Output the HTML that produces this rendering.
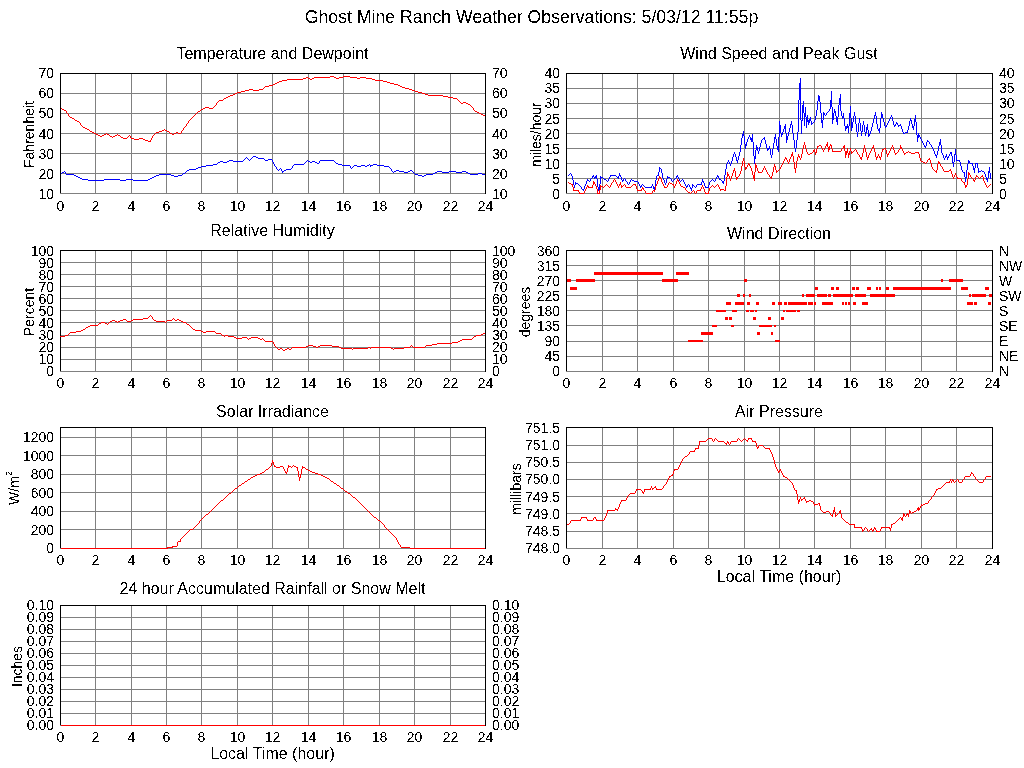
<!DOCTYPE html>
<html><head><meta charset="utf-8"><style>html,body{margin:0;padding:0;background:#fff;}svg{display:block;}text{font-family:"Liberation Sans", sans-serif;fill:#000;}</style></head>
<body><svg width="1024" height="768" viewBox="0 0 1024 768" shape-rendering="crispEdges">
<defs><filter id="th" x="0" y="0" width="1024" height="768" filterUnits="userSpaceOnUse" color-interpolation-filters="sRGB"><feComponentTransfer><feFuncA type="discrete" tableValues="0 1"/></feComponentTransfer></filter><filter id="th2" x="0" y="0" width="1024" height="768" filterUnits="userSpaceOnUse" color-interpolation-filters="sRGB"><feComponentTransfer><feFuncA type="discrete" tableValues="0 0 1"/></feComponentTransfer></filter><filter id="th3" color-interpolation-filters="sRGB"><feComponentTransfer><feFuncA type="discrete" tableValues="0 1"/></feComponentTransfer></filter></defs>
<rect width="1024" height="768" fill="#fff"/>
<g fill="#808080"><rect x="95" y="73" width="1" height="120"/><rect x="131" y="73" width="1" height="120"/><rect x="166" y="73" width="1" height="120"/><rect x="201" y="73" width="1" height="120"/><rect x="237" y="73" width="1" height="120"/><rect x="272" y="73" width="1" height="120"/><rect x="308" y="73" width="1" height="120"/><rect x="343" y="73" width="1" height="120"/><rect x="379" y="73" width="1" height="120"/><rect x="414" y="73" width="1" height="120"/><rect x="450" y="73" width="1" height="120"/><rect x="60" y="193" width="426" height="1"/><rect x="60" y="173" width="426" height="1"/><rect x="60" y="153" width="426" height="1"/><rect x="60" y="133" width="426" height="1"/><rect x="60" y="113" width="426" height="1"/><rect x="60" y="93" width="426" height="1"/></g>
<g fill="#000"><rect x="60" y="73" width="1" height="120"/><rect x="60" y="73" width="426" height="1"/><rect x="485" y="73" width="1" height="121"/></g>
<g fill="#808080"><rect x="602" y="73" width="1" height="120"/><rect x="637" y="73" width="1" height="120"/><rect x="673" y="73" width="1" height="120"/><rect x="708" y="73" width="1" height="120"/><rect x="744" y="73" width="1" height="120"/><rect x="779" y="73" width="1" height="120"/><rect x="814" y="73" width="1" height="120"/><rect x="850" y="73" width="1" height="120"/><rect x="885" y="73" width="1" height="120"/><rect x="921" y="73" width="1" height="120"/><rect x="956" y="73" width="1" height="120"/><rect x="566" y="193" width="427" height="1"/><rect x="566" y="178" width="427" height="1"/><rect x="566" y="163" width="427" height="1"/><rect x="566" y="148" width="427" height="1"/><rect x="566" y="133" width="427" height="1"/><rect x="566" y="118" width="427" height="1"/><rect x="566" y="103" width="427" height="1"/><rect x="566" y="88" width="427" height="1"/></g>
<g fill="#000"><rect x="566" y="73" width="1" height="120"/><rect x="566" y="73" width="427" height="1"/><rect x="992" y="73" width="1" height="121"/></g>
<g fill="#808080"><rect x="95" y="250" width="1" height="121"/><rect x="131" y="250" width="1" height="121"/><rect x="166" y="250" width="1" height="121"/><rect x="201" y="250" width="1" height="121"/><rect x="237" y="250" width="1" height="121"/><rect x="272" y="250" width="1" height="121"/><rect x="308" y="250" width="1" height="121"/><rect x="343" y="250" width="1" height="121"/><rect x="379" y="250" width="1" height="121"/><rect x="414" y="250" width="1" height="121"/><rect x="450" y="250" width="1" height="121"/><rect x="60" y="371" width="426" height="1"/><rect x="60" y="359" width="426" height="1"/><rect x="60" y="347" width="426" height="1"/><rect x="60" y="335" width="426" height="1"/><rect x="60" y="322" width="426" height="1"/><rect x="60" y="310" width="426" height="1"/><rect x="60" y="298" width="426" height="1"/><rect x="60" y="286" width="426" height="1"/><rect x="60" y="274" width="426" height="1"/><rect x="60" y="262" width="426" height="1"/></g>
<g fill="#000"><rect x="60" y="250" width="1" height="121"/><rect x="60" y="250" width="426" height="1"/><rect x="485" y="250" width="1" height="122"/></g>
<g fill="#808080"><rect x="602" y="250" width="1" height="121"/><rect x="637" y="250" width="1" height="121"/><rect x="673" y="250" width="1" height="121"/><rect x="708" y="250" width="1" height="121"/><rect x="744" y="250" width="1" height="121"/><rect x="779" y="250" width="1" height="121"/><rect x="814" y="250" width="1" height="121"/><rect x="850" y="250" width="1" height="121"/><rect x="885" y="250" width="1" height="121"/><rect x="921" y="250" width="1" height="121"/><rect x="956" y="250" width="1" height="121"/><rect x="566" y="371" width="427" height="1"/><rect x="566" y="356" width="427" height="1"/><rect x="566" y="341" width="427" height="1"/><rect x="566" y="325" width="427" height="1"/><rect x="566" y="310" width="427" height="1"/><rect x="566" y="295" width="427" height="1"/><rect x="566" y="280" width="427" height="1"/><rect x="566" y="265" width="427" height="1"/></g>
<g fill="#000"><rect x="566" y="250" width="1" height="121"/><rect x="566" y="250" width="427" height="1"/><rect x="992" y="250" width="1" height="122"/></g>
<g fill="#808080"><rect x="95" y="427" width="1" height="121"/><rect x="131" y="427" width="1" height="121"/><rect x="166" y="427" width="1" height="121"/><rect x="201" y="427" width="1" height="121"/><rect x="237" y="427" width="1" height="121"/><rect x="272" y="427" width="1" height="121"/><rect x="308" y="427" width="1" height="121"/><rect x="343" y="427" width="1" height="121"/><rect x="379" y="427" width="1" height="121"/><rect x="414" y="427" width="1" height="121"/><rect x="450" y="427" width="1" height="121"/><rect x="60" y="548" width="426" height="1"/><rect x="60" y="529" width="426" height="1"/><rect x="60" y="511" width="426" height="1"/><rect x="60" y="492" width="426" height="1"/><rect x="60" y="474" width="426" height="1"/><rect x="60" y="455" width="426" height="1"/><rect x="60" y="437" width="426" height="1"/></g>
<g fill="#000"><rect x="60" y="427" width="1" height="121"/><rect x="60" y="427" width="426" height="1"/><rect x="485" y="427" width="1" height="122"/></g>
<g fill="#808080"><rect x="602" y="427" width="1" height="121"/><rect x="637" y="427" width="1" height="121"/><rect x="673" y="427" width="1" height="121"/><rect x="708" y="427" width="1" height="121"/><rect x="744" y="427" width="1" height="121"/><rect x="779" y="427" width="1" height="121"/><rect x="814" y="427" width="1" height="121"/><rect x="850" y="427" width="1" height="121"/><rect x="885" y="427" width="1" height="121"/><rect x="921" y="427" width="1" height="121"/><rect x="956" y="427" width="1" height="121"/><rect x="566" y="548" width="427" height="1"/><rect x="566" y="531" width="427" height="1"/><rect x="566" y="513" width="427" height="1"/><rect x="566" y="496" width="427" height="1"/><rect x="566" y="479" width="427" height="1"/><rect x="566" y="462" width="427" height="1"/><rect x="566" y="445" width="427" height="1"/></g>
<g fill="#000"><rect x="566" y="427" width="1" height="121"/><rect x="566" y="427" width="427" height="1"/><rect x="992" y="427" width="1" height="122"/></g>
<g fill="#808080"><rect x="95" y="605" width="1" height="120"/><rect x="131" y="605" width="1" height="120"/><rect x="166" y="605" width="1" height="120"/><rect x="201" y="605" width="1" height="120"/><rect x="237" y="605" width="1" height="120"/><rect x="272" y="605" width="1" height="120"/><rect x="308" y="605" width="1" height="120"/><rect x="343" y="605" width="1" height="120"/><rect x="379" y="605" width="1" height="120"/><rect x="414" y="605" width="1" height="120"/><rect x="450" y="605" width="1" height="120"/><rect x="60" y="725" width="426" height="1"/><rect x="60" y="713" width="426" height="1"/><rect x="60" y="701" width="426" height="1"/><rect x="60" y="689" width="426" height="1"/><rect x="60" y="677" width="426" height="1"/><rect x="60" y="665" width="426" height="1"/><rect x="60" y="653" width="426" height="1"/><rect x="60" y="641" width="426" height="1"/><rect x="60" y="629" width="426" height="1"/><rect x="60" y="617" width="426" height="1"/></g>
<g fill="#000"><rect x="60" y="605" width="1" height="120"/><rect x="60" y="605" width="426" height="1"/><rect x="485" y="605" width="1" height="121"/></g>
<g filter="url(#th)"><text x="531.5" y="23" font-size="17.7" text-anchor="middle" >Ghost Mine Ranch Weather Observations: 5/03/12 11:55p</text>
<text x="272.5" y="59" font-size="16" text-anchor="middle" >Temperature and Dewpoint</text>
<text x="54" y="199" font-size="14" text-anchor="end" >10</text>
<text x="492" y="199" font-size="14" text-anchor="start" >10</text>
<text x="54" y="179" font-size="14" text-anchor="end" >20</text>
<text x="492" y="179" font-size="14" text-anchor="start" >20</text>
<text x="54" y="159" font-size="14" text-anchor="end" >30</text>
<text x="492" y="159" font-size="14" text-anchor="start" >30</text>
<text x="54" y="139" font-size="14" text-anchor="end" >40</text>
<text x="492" y="139" font-size="14" text-anchor="start" >40</text>
<text x="54" y="118" font-size="14" text-anchor="end" >50</text>
<text x="492" y="118" font-size="14" text-anchor="start" >50</text>
<text x="54" y="98" font-size="14" text-anchor="end" >60</text>
<text x="492" y="98" font-size="14" text-anchor="start" >60</text>
<text x="54" y="78" font-size="14" text-anchor="end" >70</text>
<text x="492" y="78" font-size="14" text-anchor="start" >70</text>
<text x="60.5" y="211" font-size="14" text-anchor="middle" >0</text>
<text x="95.5" y="211" font-size="14" text-anchor="middle" >2</text>
<text x="131.5" y="211" font-size="14" text-anchor="middle" >4</text>
<text x="166.5" y="211" font-size="14" text-anchor="middle" >6</text>
<text x="201.5" y="211" font-size="14" text-anchor="middle" >8</text>
<text x="237.5" y="211" font-size="14" text-anchor="middle" >10</text>
<text x="272.5" y="211" font-size="14" text-anchor="middle" >12</text>
<text x="308.5" y="211" font-size="14" text-anchor="middle" >14</text>
<text x="343.5" y="211" font-size="14" text-anchor="middle" >16</text>
<text x="379.5" y="211" font-size="14" text-anchor="middle" >18</text>
<text x="414.5" y="211" font-size="14" text-anchor="middle" >20</text>
<text x="450.5" y="211" font-size="14" text-anchor="middle" >22</text>
<text x="485.5" y="211" font-size="14" text-anchor="middle" >24</text>
<text x="779.0" y="59" font-size="16" text-anchor="middle" >Wind Speed and Peak Gust</text>
<text x="560" y="199" font-size="14" text-anchor="end" >0</text>
<text x="999" y="199" font-size="14" text-anchor="start" >0</text>
<text x="560" y="184" font-size="14" text-anchor="end" >5</text>
<text x="999" y="184" font-size="14" text-anchor="start" >5</text>
<text x="560" y="169" font-size="14" text-anchor="end" >10</text>
<text x="999" y="169" font-size="14" text-anchor="start" >10</text>
<text x="560" y="154" font-size="14" text-anchor="end" >15</text>
<text x="999" y="154" font-size="14" text-anchor="start" >15</text>
<text x="560" y="139" font-size="14" text-anchor="end" >20</text>
<text x="999" y="139" font-size="14" text-anchor="start" >20</text>
<text x="560" y="124" font-size="14" text-anchor="end" >25</text>
<text x="999" y="124" font-size="14" text-anchor="start" >25</text>
<text x="560" y="108" font-size="14" text-anchor="end" >30</text>
<text x="999" y="108" font-size="14" text-anchor="start" >30</text>
<text x="560" y="93" font-size="14" text-anchor="end" >35</text>
<text x="999" y="93" font-size="14" text-anchor="start" >35</text>
<text x="560" y="78" font-size="14" text-anchor="end" >40</text>
<text x="999" y="78" font-size="14" text-anchor="start" >40</text>
<text x="566.5" y="211" font-size="14" text-anchor="middle" >0</text>
<text x="602.5" y="211" font-size="14" text-anchor="middle" >2</text>
<text x="637.5" y="211" font-size="14" text-anchor="middle" >4</text>
<text x="673.5" y="211" font-size="14" text-anchor="middle" >6</text>
<text x="708.5" y="211" font-size="14" text-anchor="middle" >8</text>
<text x="744.5" y="211" font-size="14" text-anchor="middle" >10</text>
<text x="779.5" y="211" font-size="14" text-anchor="middle" >12</text>
<text x="814.5" y="211" font-size="14" text-anchor="middle" >14</text>
<text x="850.5" y="211" font-size="14" text-anchor="middle" >16</text>
<text x="885.5" y="211" font-size="14" text-anchor="middle" >18</text>
<text x="921.5" y="211" font-size="14" text-anchor="middle" >20</text>
<text x="956.5" y="211" font-size="14" text-anchor="middle" >22</text>
<text x="992.5" y="211" font-size="14" text-anchor="middle" >24</text>
<text x="272.5" y="236" font-size="16" text-anchor="middle" >Relative Humidity</text>
<text x="54" y="376" font-size="14" text-anchor="end" >0</text>
<text x="492" y="376" font-size="14" text-anchor="start" >0</text>
<text x="54" y="364" font-size="14" text-anchor="end" >10</text>
<text x="492" y="364" font-size="14" text-anchor="start" >10</text>
<text x="54" y="352" font-size="14" text-anchor="end" >20</text>
<text x="492" y="352" font-size="14" text-anchor="start" >20</text>
<text x="54" y="340" font-size="14" text-anchor="end" >30</text>
<text x="492" y="340" font-size="14" text-anchor="start" >30</text>
<text x="54" y="328" font-size="14" text-anchor="end" >40</text>
<text x="492" y="328" font-size="14" text-anchor="start" >40</text>
<text x="54" y="316" font-size="14" text-anchor="end" >50</text>
<text x="492" y="316" font-size="14" text-anchor="start" >50</text>
<text x="54" y="304" font-size="14" text-anchor="end" >60</text>
<text x="492" y="304" font-size="14" text-anchor="start" >60</text>
<text x="54" y="292" font-size="14" text-anchor="end" >70</text>
<text x="492" y="292" font-size="14" text-anchor="start" >70</text>
<text x="54" y="280" font-size="14" text-anchor="end" >80</text>
<text x="492" y="280" font-size="14" text-anchor="start" >80</text>
<text x="54" y="268" font-size="14" text-anchor="end" >90</text>
<text x="492" y="268" font-size="14" text-anchor="start" >90</text>
<text x="54" y="256" font-size="14" text-anchor="end" >100</text>
<text x="492" y="256" font-size="14" text-anchor="start" >100</text>
<text x="60.5" y="388" font-size="14" text-anchor="middle" >0</text>
<text x="95.5" y="388" font-size="14" text-anchor="middle" >2</text>
<text x="131.5" y="388" font-size="14" text-anchor="middle" >4</text>
<text x="166.5" y="388" font-size="14" text-anchor="middle" >6</text>
<text x="201.5" y="388" font-size="14" text-anchor="middle" >8</text>
<text x="237.5" y="388" font-size="14" text-anchor="middle" >10</text>
<text x="272.5" y="388" font-size="14" text-anchor="middle" >12</text>
<text x="308.5" y="388" font-size="14" text-anchor="middle" >14</text>
<text x="343.5" y="388" font-size="14" text-anchor="middle" >16</text>
<text x="379.5" y="388" font-size="14" text-anchor="middle" >18</text>
<text x="414.5" y="388" font-size="14" text-anchor="middle" >20</text>
<text x="450.5" y="388" font-size="14" text-anchor="middle" >22</text>
<text x="485.5" y="388" font-size="14" text-anchor="middle" >24</text>
<text x="779.0" y="239" font-size="16" text-anchor="middle" >Wind Direction</text>
<text x="560" y="376" font-size="14" text-anchor="end" >0</text>
<text x="999" y="376" font-size="14" text-anchor="start" >N</text>
<text x="560" y="361" font-size="14" text-anchor="end" >45</text>
<text x="999" y="361" font-size="14" text-anchor="start" >NE</text>
<text x="560" y="346" font-size="14" text-anchor="end" >90</text>
<text x="999" y="346" font-size="14" text-anchor="start" >E</text>
<text x="560" y="331" font-size="14" text-anchor="end" >135</text>
<text x="999" y="331" font-size="14" text-anchor="start" >SE</text>
<text x="560" y="316" font-size="14" text-anchor="end" >180</text>
<text x="999" y="316" font-size="14" text-anchor="start" >S</text>
<text x="560" y="301" font-size="14" text-anchor="end" >225</text>
<text x="999" y="301" font-size="14" text-anchor="start" >SW</text>
<text x="560" y="286" font-size="14" text-anchor="end" >270</text>
<text x="999" y="286" font-size="14" text-anchor="start" >W</text>
<text x="560" y="271" font-size="14" text-anchor="end" >315</text>
<text x="999" y="271" font-size="14" text-anchor="start" >NW</text>
<text x="560" y="256" font-size="14" text-anchor="end" >360</text>
<text x="999" y="256" font-size="14" text-anchor="start" >N</text>
<text x="566.5" y="388" font-size="14" text-anchor="middle" >0</text>
<text x="602.5" y="388" font-size="14" text-anchor="middle" >2</text>
<text x="637.5" y="388" font-size="14" text-anchor="middle" >4</text>
<text x="673.5" y="388" font-size="14" text-anchor="middle" >6</text>
<text x="708.5" y="388" font-size="14" text-anchor="middle" >8</text>
<text x="744.5" y="388" font-size="14" text-anchor="middle" >10</text>
<text x="779.5" y="388" font-size="14" text-anchor="middle" >12</text>
<text x="814.5" y="388" font-size="14" text-anchor="middle" >14</text>
<text x="850.5" y="388" font-size="14" text-anchor="middle" >16</text>
<text x="885.5" y="388" font-size="14" text-anchor="middle" >18</text>
<text x="921.5" y="388" font-size="14" text-anchor="middle" >20</text>
<text x="956.5" y="388" font-size="14" text-anchor="middle" >22</text>
<text x="992.5" y="388" font-size="14" text-anchor="middle" >24</text>
<text x="272.5" y="417" font-size="16" text-anchor="middle" >Solar Irradiance</text>
<text x="54" y="553" font-size="14" text-anchor="end" >0</text>
<text x="54" y="535" font-size="14" text-anchor="end" >200</text>
<text x="54" y="516" font-size="14" text-anchor="end" >400</text>
<text x="54" y="498" font-size="14" text-anchor="end" >600</text>
<text x="54" y="479" font-size="14" text-anchor="end" >800</text>
<text x="54" y="461" font-size="14" text-anchor="end" >1000</text>
<text x="54" y="442" font-size="14" text-anchor="end" >1200</text>
<text x="60.5" y="565" font-size="14" text-anchor="middle" >0</text>
<text x="95.5" y="565" font-size="14" text-anchor="middle" >2</text>
<text x="131.5" y="565" font-size="14" text-anchor="middle" >4</text>
<text x="166.5" y="565" font-size="14" text-anchor="middle" >6</text>
<text x="201.5" y="565" font-size="14" text-anchor="middle" >8</text>
<text x="237.5" y="565" font-size="14" text-anchor="middle" >10</text>
<text x="272.5" y="565" font-size="14" text-anchor="middle" >12</text>
<text x="308.5" y="565" font-size="14" text-anchor="middle" >14</text>
<text x="343.5" y="565" font-size="14" text-anchor="middle" >16</text>
<text x="379.5" y="565" font-size="14" text-anchor="middle" >18</text>
<text x="414.5" y="565" font-size="14" text-anchor="middle" >20</text>
<text x="450.5" y="565" font-size="14" text-anchor="middle" >22</text>
<text x="485.5" y="565" font-size="14" text-anchor="middle" >24</text>
<text x="779.0" y="417" font-size="16" text-anchor="middle" >Air Pressure</text>
<text x="560" y="553" font-size="14" text-anchor="end" >748.0</text>
<text x="560" y="536" font-size="14" text-anchor="end" >748.5</text>
<text x="560" y="519" font-size="14" text-anchor="end" >749.0</text>
<text x="560" y="502" font-size="14" text-anchor="end" >749.5</text>
<text x="560" y="484" font-size="14" text-anchor="end" >750.0</text>
<text x="560" y="467" font-size="14" text-anchor="end" >750.5</text>
<text x="560" y="450" font-size="14" text-anchor="end" >751.0</text>
<text x="560" y="433" font-size="14" text-anchor="end" >751.5</text>
<text x="566.5" y="565" font-size="14" text-anchor="middle" >0</text>
<text x="602.5" y="565" font-size="14" text-anchor="middle" >2</text>
<text x="637.5" y="565" font-size="14" text-anchor="middle" >4</text>
<text x="673.5" y="565" font-size="14" text-anchor="middle" >6</text>
<text x="708.5" y="565" font-size="14" text-anchor="middle" >8</text>
<text x="744.5" y="565" font-size="14" text-anchor="middle" >10</text>
<text x="779.5" y="565" font-size="14" text-anchor="middle" >12</text>
<text x="814.5" y="565" font-size="14" text-anchor="middle" >14</text>
<text x="850.5" y="565" font-size="14" text-anchor="middle" >16</text>
<text x="885.5" y="565" font-size="14" text-anchor="middle" >18</text>
<text x="921.5" y="565" font-size="14" text-anchor="middle" >20</text>
<text x="956.5" y="565" font-size="14" text-anchor="middle" >22</text>
<text x="992.5" y="565" font-size="14" text-anchor="middle" >24</text>
<text x="779.0" y="582" font-size="16" text-anchor="middle" >Local Time (hour)</text>
<text x="272.5" y="594" font-size="16" text-anchor="middle" >24 hour Accumulated Rainfall or Snow Melt</text>
<text x="54" y="730" font-size="14" text-anchor="end" >0.00</text>
<text x="492" y="730" font-size="14" text-anchor="start" >0.00</text>
<text x="54" y="718" font-size="14" text-anchor="end" >0.01</text>
<text x="492" y="718" font-size="14" text-anchor="start" >0.01</text>
<text x="54" y="706" font-size="14" text-anchor="end" >0.02</text>
<text x="492" y="706" font-size="14" text-anchor="start" >0.02</text>
<text x="54" y="694" font-size="14" text-anchor="end" >0.03</text>
<text x="492" y="694" font-size="14" text-anchor="start" >0.03</text>
<text x="54" y="682" font-size="14" text-anchor="end" >0.04</text>
<text x="492" y="682" font-size="14" text-anchor="start" >0.04</text>
<text x="54" y="670" font-size="14" text-anchor="end" >0.05</text>
<text x="492" y="670" font-size="14" text-anchor="start" >0.05</text>
<text x="54" y="658" font-size="14" text-anchor="end" >0.06</text>
<text x="492" y="658" font-size="14" text-anchor="start" >0.06</text>
<text x="54" y="646" font-size="14" text-anchor="end" >0.07</text>
<text x="492" y="646" font-size="14" text-anchor="start" >0.07</text>
<text x="54" y="634" font-size="14" text-anchor="end" >0.08</text>
<text x="492" y="634" font-size="14" text-anchor="start" >0.08</text>
<text x="54" y="622" font-size="14" text-anchor="end" >0.09</text>
<text x="492" y="622" font-size="14" text-anchor="start" >0.09</text>
<text x="54" y="610" font-size="14" text-anchor="end" >0.10</text>
<text x="492" y="610" font-size="14" text-anchor="start" >0.10</text>
<text x="60.5" y="742" font-size="14" text-anchor="middle" >0</text>
<text x="95.5" y="742" font-size="14" text-anchor="middle" >2</text>
<text x="131.5" y="742" font-size="14" text-anchor="middle" >4</text>
<text x="166.5" y="742" font-size="14" text-anchor="middle" >6</text>
<text x="201.5" y="742" font-size="14" text-anchor="middle" >8</text>
<text x="237.5" y="742" font-size="14" text-anchor="middle" >10</text>
<text x="272.5" y="742" font-size="14" text-anchor="middle" >12</text>
<text x="308.5" y="742" font-size="14" text-anchor="middle" >14</text>
<text x="343.5" y="742" font-size="14" text-anchor="middle" >16</text>
<text x="379.5" y="742" font-size="14" text-anchor="middle" >18</text>
<text x="414.5" y="742" font-size="14" text-anchor="middle" >20</text>
<text x="450.5" y="742" font-size="14" text-anchor="middle" >22</text>
<text x="485.5" y="742" font-size="14" text-anchor="middle" >24</text>
<text x="272.5" y="759" font-size="16" text-anchor="middle" >Local Time (hour)</text></g>
<g transform="translate(34,134.5) rotate(-90)" filter="url(#th3)"><text x="0" y="0" font-size="14" text-anchor="middle">Fahrenheit</text></g>
<g transform="translate(541,134.5) rotate(-90)" filter="url(#th3)"><text x="0" y="0" font-size="14" text-anchor="middle">miles/hour</text></g>
<g transform="translate(34,312.0) rotate(-90)" filter="url(#th3)"><text x="0" y="0" font-size="14" text-anchor="middle">Percent</text></g>
<g transform="translate(530,312.0) rotate(-90)" filter="url(#th3)"><text x="0" y="0" font-size="14" text-anchor="middle">degrees</text></g>
<g transform="translate(19,488.0) rotate(-90)" filter="url(#th3)"><text x="0" y="0" font-size="14" text-anchor="middle">W/m<tspan font-size="9" dy="-7">2</tspan></text></g>
<g transform="translate(521,489.0) rotate(-90)" filter="url(#th3)"><text x="0" y="0" font-size="14" text-anchor="middle">millibars</text></g>
<g transform="translate(22,666.5) rotate(-90)" filter="url(#th3)"><text x="0" y="0" font-size="14" text-anchor="middle">Inches</text></g>

<path fill="#ff0000" d="M330 76h4v1h-4zM343 76h7v1h-7zM306 77h2v1h-2zM314 77h16v1h-16zM334 77h2v1h-2zM339 77h4v1h-4zM350 77h7v1h-7zM360 77h6v1h-6zM303 78h3v1h-3zM308 78h2v1h-2zM312 78h2v1h-2zM336 78h3v1h-3zM357 78h3v1h-3zM366 78h6v1h-6zM287 79h16v1h-16zM310 79h2v1h-2zM372 79h3v1h-3zM282 80h5v1h-5zM375 80h8v1h-8zM279 81h3v1h-3zM383 81h4v1h-4zM277 82h2v1h-2zM387 82h3v1h-3zM275 83h2v1h-2zM390 83h4v1h-4zM273 84h2v1h-2zM394 84h4v1h-4zM269 85h4v1h-4zM398 85h2v1h-2zM265 86h4v1h-4zM400 86h2v1h-2zM264 87h1v1h-1zM402 87h3v1h-3zM263 88h1v1h-1zM405 88h4v1h-4zM249 89h4v1h-4zM259 89h4v1h-4zM409 89h3v1h-3zM245 90h4v1h-4zM253 90h6v1h-6zM412 90h3v1h-3zM241 91h4v1h-4zM415 91h3v1h-3zM237 92h4v1h-4zM418 92h4v1h-4zM235 93h2v1h-2zM422 93h3v1h-3zM233 94h2v1h-2zM425 94h3v1h-3zM230 95h3v1h-3zM428 95h15v1h-15zM228 96h2v1h-2zM443 96h5v1h-5zM226 97h2v1h-2zM448 97h5v1h-5zM224 98h2v1h-2zM453 98h4v1h-4zM223 99h1v1h-1zM457 99h1v1h-1zM219 100h4v1h-4zM458 100h1v1h-1zM218 101h1v1h-1zM459 101h1v1h-1zM217 102h1v1h-1zM460 102h1v1h-1zM463 102h3v1h-3zM216 103h1v1h-1zM461 103h2v1h-2zM466 103h2v1h-2zM216 104h1v1h-1zM468 104h2v1h-2zM215 105h1v1h-1zM470 105h1v1h-1zM214 106h1v1h-1zM471 106h1v1h-1zM205 107h4v1h-4zM213 107h1v1h-1zM472 107h1v1h-1zM61 108h1v1h-1zM203 108h2v1h-2zM209 108h4v1h-4zM473 108h1v1h-1zM62 109h2v1h-2zM201 109h2v1h-2zM473 109h1v1h-1zM64 110h2v1h-2zM200 110h1v1h-1zM474 110h1v1h-1zM66 111h1v1h-1zM198 111h2v1h-2zM475 111h2v1h-2zM66 112h1v1h-1zM197 112h1v1h-1zM477 112h2v1h-2zM67 113h1v1h-1zM196 113h1v1h-1zM479 113h2v1h-2zM68 114h1v1h-1zM195 114h1v1h-1zM481 114h2v1h-2zM68 115h1v1h-1zM194 115h1v1h-1zM483 115h2v1h-2zM69 116h1v1h-1zM193 116h1v1h-1zM70 117h2v1h-2zM192 117h1v1h-1zM72 118h2v1h-2zM191 118h1v1h-1zM74 119h1v1h-1zM190 119h1v1h-1zM75 120h2v1h-2zM189 120h1v1h-1zM77 121h2v1h-2zM188 121h1v1h-1zM79 122h1v1h-1zM188 122h1v1h-1zM80 123h1v1h-1zM187 123h1v1h-1zM80 124h1v1h-1zM186 124h1v1h-1zM81 125h1v1h-1zM186 125h1v1h-1zM82 126h1v1h-1zM185 126h1v1h-1zM83 127h2v1h-2zM184 127h1v1h-1zM85 128h2v1h-2zM183 128h1v1h-1zM87 129h2v1h-2zM164 129h1v1h-1zM183 129h1v1h-1zM89 130h1v1h-1zM162 130h2v1h-2zM165 130h2v1h-2zM182 130h1v1h-1zM90 131h2v1h-2zM159 131h3v1h-3zM167 131h2v1h-2zM181 131h1v1h-1zM92 132h2v1h-2zM156 132h3v1h-3zM169 132h1v1h-1zM176 132h2v1h-2zM181 132h1v1h-1zM94 133h2v1h-2zM106 133h1v1h-1zM155 133h1v1h-1zM170 133h2v1h-2zM174 133h2v1h-2zM178 133h3v1h-3zM96 134h2v1h-2zM104 134h2v1h-2zM107 134h2v1h-2zM117 134h1v1h-1zM154 134h1v1h-1zM172 134h2v1h-2zM98 135h2v1h-2zM102 135h2v1h-2zM109 135h1v1h-1zM115 135h2v1h-2zM118 135h2v1h-2zM129 135h1v1h-1zM153 135h1v1h-1zM100 136h2v1h-2zM110 136h2v1h-2zM113 136h2v1h-2zM120 136h1v1h-1zM128 136h1v1h-1zM130 136h1v1h-1zM152 136h1v1h-1zM112 137h1v1h-1zM121 137h2v1h-2zM127 137h1v1h-1zM130 137h1v1h-1zM152 137h1v1h-1zM123 138h4v1h-4zM131 138h3v1h-3zM139 138h4v1h-4zM151 138h1v1h-1zM134 139h5v1h-5zM143 139h2v1h-2zM151 139h1v1h-1zM145 140h3v1h-3zM150 140h1v1h-1zM148 141h3v1h-3z"/>
<path fill="#0000ff" d="M253 156h3v1h-3zM246 157h1v1h-1zM252 157h1v1h-1zM256 157h2v1h-2zM245 158h1v1h-1zM247 158h1v1h-1zM251 158h1v1h-1zM258 158h6v1h-6zM244 159h1v1h-1zM248 159h1v1h-1zM250 159h1v1h-1zM264 159h1v1h-1zM268 159h4v1h-4zM229 160h4v1h-4zM243 160h1v1h-1zM249 160h1v1h-1zM265 160h3v1h-3zM272 160h1v1h-1zM307 160h1v1h-1zM320 160h14v1h-14zM220 161h3v1h-3zM227 161h2v1h-2zM233 161h10v1h-10zM272 161h1v1h-1zM306 161h1v1h-1zM308 161h2v1h-2zM312 161h3v1h-3zM319 161h1v1h-1zM334 161h1v1h-1zM218 162h2v1h-2zM223 162h4v1h-4zM273 162h1v1h-1zM305 162h1v1h-1zM310 162h2v1h-2zM315 162h2v1h-2zM319 162h1v1h-1zM335 162h1v1h-1zM217 163h1v1h-1zM273 163h1v1h-1zM304 163h1v1h-1zM317 163h2v1h-2zM336 163h2v1h-2zM213 164h4v1h-4zM274 164h1v1h-1zM294 164h10v1h-10zM338 164h4v1h-4zM369 164h1v1h-1zM373 164h4v1h-4zM206 165h7v1h-7zM274 165h1v1h-1zM293 165h1v1h-1zM342 165h8v1h-8zM354 165h3v1h-3zM361 165h4v1h-4zM367 165h2v1h-2zM370 165h3v1h-3zM377 165h7v1h-7zM201 166h5v1h-5zM275 166h1v1h-1zM292 166h1v1h-1zM350 166h1v1h-1zM353 166h1v1h-1zM357 166h4v1h-4zM365 166h2v1h-2zM370 166h1v1h-1zM384 166h5v1h-5zM198 167h3v1h-3zM276 167h1v1h-1zM292 167h1v1h-1zM350 167h1v1h-1zM352 167h1v1h-1zM389 167h1v1h-1zM196 168h2v1h-2zM276 168h1v1h-1zM280 168h1v1h-1zM291 168h1v1h-1zM351 168h1v1h-1zM390 168h1v1h-1zM189 169h7v1h-7zM277 169h1v1h-1zM279 169h1v1h-1zM281 169h1v1h-1zM286 169h5v1h-5zM391 169h1v1h-1zM187 170h2v1h-2zM278 170h1v1h-1zM281 170h1v1h-1zM284 170h2v1h-2zM391 170h1v1h-1zM396 170h3v1h-3zM410 170h2v1h-2zM64 171h1v1h-1zM186 171h1v1h-1zM282 171h2v1h-2zM392 171h1v1h-1zM394 171h2v1h-2zM399 171h5v1h-5zM408 171h2v1h-2zM412 171h1v1h-1zM437 171h5v1h-5zM449 171h7v1h-7zM462 171h4v1h-4zM62 172h2v1h-2zM65 172h1v1h-1zM185 172h1v1h-1zM282 172h1v1h-1zM393 172h1v1h-1zM404 172h4v1h-4zM413 172h1v1h-1zM435 172h2v1h-2zM442 172h7v1h-7zM456 172h6v1h-6zM466 172h2v1h-2zM61 173h1v1h-1zM65 173h1v1h-1zM183 173h2v1h-2zM414 173h1v1h-1zM433 173h2v1h-2zM468 173h2v1h-2zM478 173h4v1h-4zM66 174h8v1h-8zM159 174h12v1h-12zM182 174h1v1h-1zM415 174h3v1h-3zM426 174h7v1h-7zM470 174h8v1h-8zM482 174h3v1h-3zM74 175h2v1h-2zM156 175h3v1h-3zM171 175h3v1h-3zM178 175h4v1h-4zM418 175h4v1h-4zM424 175h2v1h-2zM76 176h2v1h-2zM154 176h2v1h-2zM174 176h4v1h-4zM422 176h2v1h-2zM78 177h2v1h-2zM152 177h2v1h-2zM80 178h2v1h-2zM150 178h2v1h-2zM82 179h6v1h-6zM104 179h16v1h-16zM126 179h7v1h-7zM148 179h2v1h-2zM88 180h16v1h-16zM120 180h6v1h-6zM133 180h15v1h-15z"/>
<path fill="#0000ff" d="M800 78h1v1h-1zM800 79h1v1h-1zM800 80h1v1h-1zM800 81h1v1h-1zM800 82h1v1h-1zM799 83h2v1h-2zM799 84h2v1h-2zM799 85h2v1h-2zM799 86h2v1h-2zM799 87h2v1h-2zM799 88h2v1h-2zM799 89h2v1h-2zM799 90h2v1h-2zM799 91h2v1h-2zM831 91h1v1h-1zM799 92h2v1h-2zM831 92h1v1h-1zM799 93h2v1h-2zM831 93h1v1h-1zM799 94h2v1h-2zM831 94h1v1h-1zM840 94h1v1h-1zM799 95h2v1h-2zM818 95h1v1h-1zM831 95h1v1h-1zM840 95h1v1h-1zM799 96h2v1h-2zM818 96h2v1h-2zM831 96h1v1h-1zM840 96h1v1h-1zM799 97h2v1h-2zM818 97h2v1h-2zM831 97h1v1h-1zM840 97h1v1h-1zM799 98h2v1h-2zM818 98h2v1h-2zM831 98h1v1h-1zM839 98h2v1h-2zM799 99h2v1h-2zM818 99h2v1h-2zM831 99h1v1h-1zM839 99h2v1h-2zM798 100h1v1h-1zM800 100h1v1h-1zM818 100h2v1h-2zM830 100h2v1h-2zM839 100h2v1h-2zM798 101h1v1h-1zM800 101h1v1h-1zM803 101h1v1h-1zM817 101h1v1h-1zM819 101h1v1h-1zM830 101h2v1h-2zM839 101h2v1h-2zM798 102h1v1h-1zM800 102h1v1h-1zM803 102h1v1h-1zM817 102h1v1h-1zM820 102h1v1h-1zM830 102h2v1h-2zM839 102h2v1h-2zM798 103h1v1h-1zM800 103h1v1h-1zM803 103h1v1h-1zM817 103h1v1h-1zM820 103h1v1h-1zM830 103h2v1h-2zM839 103h2v1h-2zM798 104h1v1h-1zM800 104h1v1h-1zM803 104h1v1h-1zM817 104h1v1h-1zM820 104h1v1h-1zM830 104h2v1h-2zM839 104h2v1h-2zM798 105h1v1h-1zM800 105h1v1h-1zM802 105h2v1h-2zM817 105h1v1h-1zM820 105h1v1h-1zM830 105h2v1h-2zM838 105h1v1h-1zM840 105h1v1h-1zM798 106h1v1h-1zM800 106h1v1h-1zM802 106h2v1h-2zM817 106h1v1h-1zM820 106h1v1h-1zM830 106h2v1h-2zM838 106h1v1h-1zM840 106h1v1h-1zM850 106h1v1h-1zM798 107h1v1h-1zM800 107h1v1h-1zM802 107h2v1h-2zM805 107h1v1h-1zM817 107h1v1h-1zM820 107h1v1h-1zM830 107h1v1h-1zM832 107h1v1h-1zM838 107h1v1h-1zM840 107h1v1h-1zM850 107h1v1h-1zM798 108h1v1h-1zM800 108h1v1h-1zM802 108h2v1h-2zM805 108h1v1h-1zM817 108h1v1h-1zM820 108h1v1h-1zM830 108h1v1h-1zM832 108h1v1h-1zM838 108h1v1h-1zM840 108h1v1h-1zM850 108h1v1h-1zM798 109h1v1h-1zM800 109h1v1h-1zM802 109h2v1h-2zM805 109h1v1h-1zM817 109h1v1h-1zM820 109h1v1h-1zM829 109h1v1h-1zM832 109h1v1h-1zM834 109h1v1h-1zM838 109h1v1h-1zM840 109h1v1h-1zM850 109h1v1h-1zM798 110h1v1h-1zM800 110h1v1h-1zM802 110h2v1h-2zM805 110h1v1h-1zM816 110h1v1h-1zM820 110h1v1h-1zM829 110h1v1h-1zM832 110h1v1h-1zM834 110h1v1h-1zM838 110h1v1h-1zM840 110h1v1h-1zM850 110h1v1h-1zM798 111h1v1h-1zM800 111h1v1h-1zM802 111h2v1h-2zM805 111h1v1h-1zM816 111h1v1h-1zM820 111h1v1h-1zM828 111h1v1h-1zM832 111h1v1h-1zM834 111h2v1h-2zM838 111h1v1h-1zM841 111h1v1h-1zM850 111h1v1h-1zM798 112h1v1h-1zM800 112h1v1h-1zM802 112h2v1h-2zM805 112h1v1h-1zM816 112h1v1h-1zM820 112h1v1h-1zM823 112h1v1h-1zM827 112h1v1h-1zM832 112h1v1h-1zM834 112h2v1h-2zM838 112h1v1h-1zM841 112h1v1h-1zM850 112h1v1h-1zM854 112h1v1h-1zM875 112h1v1h-1zM881 112h1v1h-1zM798 113h1v1h-1zM800 113h1v1h-1zM802 113h1v1h-1zM804 113h2v1h-2zM816 113h1v1h-1zM821 113h1v1h-1zM823 113h2v1h-2zM826 113h1v1h-1zM832 113h2v1h-2zM835 113h1v1h-1zM838 113h1v1h-1zM841 113h1v1h-1zM843 113h1v1h-1zM849 113h2v1h-2zM854 113h1v1h-1zM875 113h1v1h-1zM881 113h1v1h-1zM798 114h1v1h-1zM800 114h1v1h-1zM802 114h1v1h-1zM804 114h2v1h-2zM816 114h1v1h-1zM821 114h1v1h-1zM823 114h2v1h-2zM826 114h1v1h-1zM832 114h2v1h-2zM835 114h1v1h-1zM838 114h1v1h-1zM841 114h1v1h-1zM843 114h1v1h-1zM849 114h2v1h-2zM854 114h1v1h-1zM875 114h1v1h-1zM881 114h2v1h-2zM798 115h1v1h-1zM800 115h1v1h-1zM802 115h1v1h-1zM804 115h2v1h-2zM807 115h1v1h-1zM816 115h1v1h-1zM821 115h1v1h-1zM823 115h1v1h-1zM825 115h1v1h-1zM832 115h2v1h-2zM835 115h1v1h-1zM838 115h1v1h-1zM841 115h1v1h-1zM843 115h1v1h-1zM849 115h2v1h-2zM854 115h1v1h-1zM874 115h2v1h-2zM881 115h2v1h-2zM891 115h1v1h-1zM915 115h1v1h-1zM798 116h1v1h-1zM800 116h1v1h-1zM802 116h1v1h-1zM804 116h2v1h-2zM807 116h1v1h-1zM815 116h1v1h-1zM821 116h1v1h-1zM823 116h1v1h-1zM832 116h2v1h-2zM836 116h1v1h-1zM838 116h1v1h-1zM842 116h2v1h-2zM849 116h2v1h-2zM853 116h1v1h-1zM855 116h1v1h-1zM874 116h1v1h-1zM876 116h1v1h-1zM881 116h2v1h-2zM891 116h1v1h-1zM915 116h1v1h-1zM798 117h1v1h-1zM800 117h1v1h-1zM802 117h1v1h-1zM804 117h1v1h-1zM806 117h2v1h-2zM810 117h1v1h-1zM815 117h1v1h-1zM821 117h1v1h-1zM823 117h1v1h-1zM832 117h2v1h-2zM836 117h2v1h-2zM842 117h2v1h-2zM849 117h2v1h-2zM853 117h1v1h-1zM855 117h1v1h-1zM874 117h1v1h-1zM876 117h1v1h-1zM881 117h2v1h-2zM890 117h1v1h-1zM892 117h1v1h-1zM915 117h1v1h-1zM798 118h1v1h-1zM800 118h1v1h-1zM802 118h1v1h-1zM804 118h1v1h-1zM806 118h2v1h-2zM810 118h1v1h-1zM815 118h1v1h-1zM821 118h1v1h-1zM823 118h1v1h-1zM832 118h2v1h-2zM836 118h2v1h-2zM842 118h1v1h-1zM844 118h1v1h-1zM849 118h1v1h-1zM851 118h1v1h-1zM853 118h1v1h-1zM855 118h1v1h-1zM859 118h1v1h-1zM874 118h1v1h-1zM876 118h1v1h-1zM880 118h1v1h-1zM883 118h1v1h-1zM890 118h1v1h-1zM892 118h1v1h-1zM910 118h1v1h-1zM915 118h1v1h-1zM798 119h1v1h-1zM800 119h1v1h-1zM802 119h1v1h-1zM804 119h1v1h-1zM806 119h2v1h-2zM809 119h2v1h-2zM815 119h1v1h-1zM821 119h1v1h-1zM823 119h1v1h-1zM832 119h2v1h-2zM836 119h2v1h-2zM844 119h1v1h-1zM849 119h1v1h-1zM851 119h1v1h-1zM853 119h1v1h-1zM855 119h1v1h-1zM859 119h1v1h-1zM873 119h1v1h-1zM876 119h1v1h-1zM880 119h1v1h-1zM883 119h1v1h-1zM889 119h1v1h-1zM892 119h1v1h-1zM910 119h1v1h-1zM914 119h2v1h-2zM798 120h1v1h-1zM801 120h2v1h-2zM804 120h1v1h-1zM806 120h5v1h-5zM814 120h1v1h-1zM821 120h2v1h-2zM832 120h1v1h-1zM836 120h2v1h-2zM844 120h1v1h-1zM849 120h1v1h-1zM851 120h1v1h-1zM853 120h1v1h-1zM855 120h1v1h-1zM859 120h1v1h-1zM873 120h1v1h-1zM876 120h1v1h-1zM880 120h1v1h-1zM883 120h1v1h-1zM889 120h1v1h-1zM892 120h1v1h-1zM910 120h2v1h-2zM914 120h2v1h-2zM779 121h1v1h-1zM791 121h1v1h-1zM798 121h1v1h-1zM801 121h1v1h-1zM804 121h1v1h-1zM806 121h4v1h-4zM811 121h1v1h-1zM814 121h1v1h-1zM821 121h2v1h-2zM832 121h1v1h-1zM836 121h2v1h-2zM844 121h1v1h-1zM849 121h1v1h-1zM851 121h1v1h-1zM853 121h1v1h-1zM855 121h1v1h-1zM859 121h1v1h-1zM863 121h1v1h-1zM873 121h1v1h-1zM876 121h1v1h-1zM880 121h1v1h-1zM883 121h1v1h-1zM888 121h1v1h-1zM893 121h1v1h-1zM909 121h1v1h-1zM911 121h1v1h-1zM914 121h2v1h-2zM779 122h1v1h-1zM791 122h1v1h-1zM798 122h1v1h-1zM801 122h1v1h-1zM804 122h1v1h-1zM806 122h1v1h-1zM808 122h2v1h-2zM811 122h1v1h-1zM813 122h1v1h-1zM821 122h2v1h-2zM832 122h1v1h-1zM837 122h1v1h-1zM844 122h1v1h-1zM849 122h1v1h-1zM851 122h2v1h-2zM855 122h1v1h-1zM859 122h1v1h-1zM863 122h1v1h-1zM873 122h1v1h-1zM876 122h1v1h-1zM880 122h1v1h-1zM884 122h1v1h-1zM888 122h1v1h-1zM893 122h1v1h-1zM896 122h1v1h-1zM909 122h1v1h-1zM911 122h1v1h-1zM914 122h1v1h-1zM916 122h1v1h-1zM779 123h1v1h-1zM791 123h1v1h-1zM798 123h1v1h-1zM801 123h1v1h-1zM804 123h1v1h-1zM806 123h1v1h-1zM808 123h1v1h-1zM811 123h2v1h-2zM822 123h1v1h-1zM832 123h1v1h-1zM837 123h1v1h-1zM844 123h1v1h-1zM849 123h1v1h-1zM851 123h2v1h-2zM855 123h1v1h-1zM858 123h1v1h-1zM860 123h1v1h-1zM863 123h1v1h-1zM872 123h1v1h-1zM876 123h1v1h-1zM880 123h1v1h-1zM884 123h1v1h-1zM887 123h1v1h-1zM893 123h1v1h-1zM896 123h2v1h-2zM909 123h1v1h-1zM911 123h1v1h-1zM914 123h1v1h-1zM916 123h1v1h-1zM779 124h1v1h-1zM785 124h1v1h-1zM790 124h2v1h-2zM798 124h1v1h-1zM801 124h1v1h-1zM804 124h1v1h-1zM806 124h1v1h-1zM808 124h1v1h-1zM811 124h1v1h-1zM822 124h1v1h-1zM837 124h1v1h-1zM844 124h1v1h-1zM847 124h1v1h-1zM849 124h1v1h-1zM851 124h2v1h-2zM856 124h1v1h-1zM858 124h1v1h-1zM860 124h1v1h-1zM863 124h1v1h-1zM867 124h1v1h-1zM872 124h1v1h-1zM877 124h1v1h-1zM880 124h1v1h-1zM884 124h1v1h-1zM887 124h1v1h-1zM893 124h1v1h-1zM895 124h1v1h-1zM897 124h1v1h-1zM900 124h1v1h-1zM909 124h1v1h-1zM912 124h1v1h-1zM914 124h1v1h-1zM916 124h1v1h-1zM779 125h2v1h-2zM785 125h1v1h-1zM790 125h1v1h-1zM792 125h1v1h-1zM798 125h1v1h-1zM801 125h1v1h-1zM804 125h1v1h-1zM806 125h1v1h-1zM822 125h1v1h-1zM844 125h1v1h-1zM847 125h1v1h-1zM849 125h1v1h-1zM851 125h2v1h-2zM856 125h1v1h-1zM858 125h1v1h-1zM860 125h1v1h-1zM862 125h1v1h-1zM864 125h1v1h-1zM867 125h1v1h-1zM872 125h1v1h-1zM877 125h1v1h-1zM880 125h1v1h-1zM884 125h1v1h-1zM886 125h1v1h-1zM894 125h2v1h-2zM898 125h3v1h-3zM909 125h1v1h-1zM912 125h1v1h-1zM914 125h1v1h-1zM916 125h1v1h-1zM779 126h2v1h-2zM784 126h2v1h-2zM790 126h1v1h-1zM792 126h1v1h-1zM798 126h1v1h-1zM801 126h1v1h-1zM806 126h1v1h-1zM822 126h1v1h-1zM845 126h4v1h-4zM851 126h2v1h-2zM856 126h1v1h-1zM858 126h1v1h-1zM860 126h1v1h-1zM862 126h1v1h-1zM864 126h1v1h-1zM867 126h1v1h-1zM872 126h1v1h-1zM877 126h1v1h-1zM880 126h1v1h-1zM885 126h2v1h-2zM894 126h1v1h-1zM898 126h1v1h-1zM901 126h1v1h-1zM908 126h1v1h-1zM912 126h2v1h-2zM916 126h1v1h-1zM779 127h2v1h-2zM784 127h2v1h-2zM790 127h1v1h-1zM792 127h1v1h-1zM798 127h1v1h-1zM801 127h1v1h-1zM806 127h1v1h-1zM822 127h1v1h-1zM845 127h4v1h-4zM851 127h2v1h-2zM856 127h1v1h-1zM858 127h1v1h-1zM860 127h1v1h-1zM862 127h1v1h-1zM864 127h1v1h-1zM866 127h2v1h-2zM871 127h1v1h-1zM877 127h1v1h-1zM880 127h1v1h-1zM885 127h1v1h-1zM901 127h1v1h-1zM908 127h1v1h-1zM912 127h2v1h-2zM916 127h1v1h-1zM779 128h2v1h-2zM784 128h2v1h-2zM789 128h1v1h-1zM792 128h1v1h-1zM798 128h1v1h-1zM801 128h1v1h-1zM845 128h2v1h-2zM848 128h1v1h-1zM851 128h1v1h-1zM856 128h1v1h-1zM858 128h1v1h-1zM860 128h1v1h-1zM862 128h1v1h-1zM864 128h1v1h-1zM866 128h2v1h-2zM871 128h1v1h-1zM877 128h1v1h-1zM879 128h1v1h-1zM901 128h1v1h-1zM908 128h1v1h-1zM913 128h1v1h-1zM916 128h1v1h-1zM779 129h2v1h-2zM783 129h1v1h-1zM785 129h1v1h-1zM789 129h1v1h-1zM792 129h1v1h-1zM798 129h1v1h-1zM801 129h1v1h-1zM845 129h1v1h-1zM848 129h1v1h-1zM851 129h1v1h-1zM856 129h1v1h-1zM858 129h1v1h-1zM860 129h1v1h-1zM862 129h1v1h-1zM864 129h1v1h-1zM866 129h2v1h-2zM871 129h1v1h-1zM878 129h2v1h-2zM902 129h1v1h-1zM908 129h1v1h-1zM913 129h1v1h-1zM916 129h1v1h-1zM779 130h2v1h-2zM783 130h1v1h-1zM785 130h1v1h-1zM789 130h1v1h-1zM792 130h1v1h-1zM798 130h1v1h-1zM801 130h1v1h-1zM845 130h1v1h-1zM848 130h1v1h-1zM851 130h1v1h-1zM856 130h1v1h-1zM858 130h1v1h-1zM860 130h1v1h-1zM862 130h1v1h-1zM864 130h1v1h-1zM866 130h1v1h-1zM868 130h1v1h-1zM871 130h1v1h-1zM878 130h2v1h-2zM902 130h1v1h-1zM907 130h1v1h-1zM916 130h1v1h-1zM743 131h1v1h-1zM779 131h2v1h-2zM783 131h1v1h-1zM785 131h1v1h-1zM789 131h1v1h-1zM792 131h1v1h-1zM798 131h1v1h-1zM801 131h1v1h-1zM848 131h1v1h-1zM856 131h1v1h-1zM858 131h1v1h-1zM861 131h2v1h-2zM864 131h1v1h-1zM866 131h1v1h-1zM868 131h1v1h-1zM870 131h1v1h-1zM879 131h1v1h-1zM902 131h1v1h-1zM907 131h1v1h-1zM916 131h1v1h-1zM743 132h1v1h-1zM779 132h2v1h-2zM782 132h1v1h-1zM785 132h1v1h-1zM788 132h1v1h-1zM792 132h1v1h-1zM797 132h1v1h-1zM801 132h1v1h-1zM848 132h1v1h-1zM857 132h1v1h-1zM861 132h1v1h-1zM865 132h2v1h-2zM868 132h1v1h-1zM870 132h1v1h-1zM879 132h1v1h-1zM903 132h1v1h-1zM905 132h3v1h-3zM916 132h1v1h-1zM743 133h1v1h-1zM779 133h1v1h-1zM781 133h2v1h-2zM786 133h1v1h-1zM788 133h1v1h-1zM793 133h1v1h-1zM797 133h1v1h-1zM801 133h1v1h-1zM857 133h1v1h-1zM861 133h1v1h-1zM865 133h1v1h-1zM868 133h1v1h-1zM870 133h1v1h-1zM903 133h2v1h-2zM916 133h1v1h-1zM918 133h1v1h-1zM742 134h2v1h-2zM752 134h1v1h-1zM775 134h1v1h-1zM779 134h1v1h-1zM781 134h2v1h-2zM786 134h1v1h-1zM788 134h1v1h-1zM793 134h1v1h-1zM797 134h1v1h-1zM857 134h1v1h-1zM861 134h1v1h-1zM865 134h1v1h-1zM868 134h2v1h-2zM916 134h1v1h-1zM918 134h1v1h-1zM742 135h2v1h-2zM749 135h1v1h-1zM752 135h1v1h-1zM775 135h1v1h-1zM779 135h1v1h-1zM781 135h1v1h-1zM786 135h1v1h-1zM788 135h1v1h-1zM793 135h1v1h-1zM797 135h1v1h-1zM857 135h1v1h-1zM861 135h1v1h-1zM865 135h1v1h-1zM868 135h2v1h-2zM917 135h3v1h-3zM742 136h1v1h-1zM744 136h1v1h-1zM749 136h1v1h-1zM752 136h1v1h-1zM775 136h1v1h-1zM779 136h1v1h-1zM781 136h1v1h-1zM786 136h2v1h-2zM793 136h1v1h-1zM797 136h1v1h-1zM857 136h1v1h-1zM868 136h1v1h-1zM917 136h3v1h-3zM742 137h1v1h-1zM744 137h1v1h-1zM748 137h1v1h-1zM750 137h1v1h-1zM752 137h1v1h-1zM764 137h1v1h-1zM774 137h2v1h-2zM778 137h1v1h-1zM786 137h2v1h-2zM793 137h1v1h-1zM797 137h1v1h-1zM917 137h2v1h-2zM920 137h1v1h-1zM741 138h1v1h-1zM744 138h1v1h-1zM748 138h1v1h-1zM750 138h3v1h-3zM763 138h2v1h-2zM774 138h2v1h-2zM778 138h1v1h-1zM786 138h2v1h-2zM793 138h1v1h-1zM797 138h1v1h-1zM917 138h1v1h-1zM920 138h1v1h-1zM741 139h1v1h-1zM744 139h1v1h-1zM747 139h1v1h-1zM750 139h3v1h-3zM762 139h1v1h-1zM764 139h1v1h-1zM774 139h1v1h-1zM776 139h1v1h-1zM778 139h1v1h-1zM786 139h2v1h-2zM793 139h1v1h-1zM797 139h1v1h-1zM917 139h1v1h-1zM921 139h1v1h-1zM940 139h1v1h-1zM741 140h1v1h-1zM744 140h1v1h-1zM747 140h1v1h-1zM751 140h2v1h-2zM761 140h1v1h-1zM765 140h1v1h-1zM774 140h1v1h-1zM776 140h1v1h-1zM778 140h1v1h-1zM786 140h1v1h-1zM794 140h1v1h-1zM796 140h1v1h-1zM917 140h1v1h-1zM921 140h1v1h-1zM927 140h1v1h-1zM940 140h1v1h-1zM741 141h1v1h-1zM744 141h1v1h-1zM747 141h1v1h-1zM751 141h2v1h-2zM761 141h1v1h-1zM765 141h1v1h-1zM774 141h1v1h-1zM776 141h1v1h-1zM778 141h1v1h-1zM786 141h1v1h-1zM794 141h1v1h-1zM796 141h1v1h-1zM917 141h1v1h-1zM922 141h1v1h-1zM927 141h2v1h-2zM940 141h1v1h-1zM741 142h1v1h-1zM744 142h1v1h-1zM746 142h1v1h-1zM753 142h1v1h-1zM761 142h1v1h-1zM765 142h1v1h-1zM774 142h1v1h-1zM776 142h1v1h-1zM778 142h1v1h-1zM786 142h1v1h-1zM794 142h1v1h-1zM796 142h1v1h-1zM922 142h1v1h-1zM926 142h1v1h-1zM929 142h1v1h-1zM939 142h2v1h-2zM741 143h1v1h-1zM744 143h1v1h-1zM746 143h1v1h-1zM753 143h1v1h-1zM760 143h1v1h-1zM765 143h1v1h-1zM773 143h1v1h-1zM776 143h1v1h-1zM778 143h1v1h-1zM794 143h1v1h-1zM796 143h1v1h-1zM923 143h1v1h-1zM926 143h1v1h-1zM929 143h1v1h-1zM939 143h2v1h-2zM741 144h1v1h-1zM745 144h2v1h-2zM753 144h1v1h-1zM760 144h1v1h-1zM766 144h1v1h-1zM773 144h1v1h-1zM776 144h1v1h-1zM778 144h1v1h-1zM794 144h1v1h-1zM796 144h1v1h-1zM923 144h1v1h-1zM926 144h1v1h-1zM930 144h1v1h-1zM939 144h2v1h-2zM740 145h1v1h-1zM745 145h2v1h-2zM753 145h1v1h-1zM756 145h1v1h-1zM760 145h1v1h-1zM766 145h1v1h-1zM773 145h1v1h-1zM776 145h1v1h-1zM778 145h1v1h-1zM794 145h1v1h-1zM796 145h1v1h-1zM924 145h1v1h-1zM926 145h1v1h-1zM931 145h1v1h-1zM939 145h1v1h-1zM941 145h1v1h-1zM740 146h1v1h-1zM745 146h1v1h-1zM753 146h1v1h-1zM756 146h1v1h-1zM760 146h1v1h-1zM766 146h1v1h-1zM769 146h1v1h-1zM773 146h1v1h-1zM777 146h2v1h-2zM794 146h1v1h-1zM796 146h1v1h-1zM924 146h2v1h-2zM931 146h1v1h-1zM938 146h1v1h-1zM941 146h1v1h-1zM740 147h1v1h-1zM745 147h1v1h-1zM753 147h1v1h-1zM756 147h2v1h-2zM759 147h1v1h-1zM766 147h1v1h-1zM769 147h1v1h-1zM773 147h1v1h-1zM777 147h2v1h-2zM794 147h1v1h-1zM796 147h1v1h-1zM925 147h1v1h-1zM932 147h1v1h-1zM938 147h1v1h-1zM941 147h1v1h-1zM740 148h1v1h-1zM745 148h1v1h-1zM753 148h1v1h-1zM756 148h2v1h-2zM759 148h1v1h-1zM767 148h3v1h-3zM773 148h1v1h-1zM777 148h2v1h-2zM795 148h1v1h-1zM932 148h1v1h-1zM938 148h1v1h-1zM941 148h1v1h-1zM740 149h1v1h-1zM753 149h1v1h-1zM756 149h2v1h-2zM759 149h1v1h-1zM767 149h2v1h-2zM770 149h1v1h-1zM772 149h1v1h-1zM777 149h2v1h-2zM795 149h1v1h-1zM933 149h1v1h-1zM938 149h1v1h-1zM941 149h1v1h-1zM955 149h1v1h-1zM740 150h1v1h-1zM753 150h1v1h-1zM755 150h1v1h-1zM757 150h1v1h-1zM759 150h1v1h-1zM767 150h1v1h-1zM770 150h1v1h-1zM772 150h1v1h-1zM778 150h1v1h-1zM795 150h1v1h-1zM933 150h1v1h-1zM938 150h1v1h-1zM941 150h1v1h-1zM955 150h1v1h-1zM740 151h1v1h-1zM753 151h1v1h-1zM755 151h1v1h-1zM758 151h1v1h-1zM770 151h1v1h-1zM772 151h1v1h-1zM778 151h1v1h-1zM795 151h1v1h-1zM934 151h1v1h-1zM937 151h1v1h-1zM941 151h1v1h-1zM955 151h1v1h-1zM734 152h1v1h-1zM739 152h1v1h-1zM753 152h1v1h-1zM755 152h1v1h-1zM758 152h1v1h-1zM770 152h1v1h-1zM772 152h1v1h-1zM934 152h1v1h-1zM937 152h1v1h-1zM941 152h1v1h-1zM950 152h2v1h-2zM955 152h1v1h-1zM734 153h1v1h-1zM739 153h1v1h-1zM753 153h1v1h-1zM755 153h1v1h-1zM758 153h1v1h-1zM770 153h1v1h-1zM772 153h1v1h-1zM934 153h1v1h-1zM937 153h1v1h-1zM942 153h1v1h-1zM950 153h2v1h-2zM955 153h1v1h-1zM733 154h1v1h-1zM735 154h1v1h-1zM739 154h1v1h-1zM753 154h1v1h-1zM755 154h1v1h-1zM770 154h1v1h-1zM772 154h1v1h-1zM935 154h1v1h-1zM937 154h1v1h-1zM942 154h1v1h-1zM946 154h1v1h-1zM949 154h1v1h-1zM951 154h1v1h-1zM954 154h2v1h-2zM733 155h1v1h-1zM735 155h1v1h-1zM739 155h1v1h-1zM753 155h1v1h-1zM755 155h1v1h-1zM771 155h1v1h-1zM935 155h2v1h-2zM943 155h1v1h-1zM946 155h1v1h-1zM949 155h1v1h-1zM951 155h1v1h-1zM954 155h1v1h-1zM956 155h1v1h-1zM733 156h1v1h-1zM735 156h1v1h-1zM738 156h1v1h-1zM754 156h2v1h-2zM771 156h1v1h-1zM936 156h1v1h-1zM943 156h1v1h-1zM945 156h2v1h-2zM948 156h1v1h-1zM952 156h1v1h-1zM954 156h1v1h-1zM956 156h1v1h-1zM732 157h1v1h-1zM736 157h1v1h-1zM738 157h1v1h-1zM754 157h2v1h-2zM771 157h1v1h-1zM936 157h1v1h-1zM943 157h1v1h-1zM945 157h1v1h-1zM947 157h2v1h-2zM952 157h1v1h-1zM954 157h1v1h-1zM956 157h1v1h-1zM732 158h1v1h-1zM736 158h1v1h-1zM738 158h1v1h-1zM754 158h2v1h-2zM944 158h1v1h-1zM947 158h1v1h-1zM952 158h1v1h-1zM954 158h1v1h-1zM956 158h1v1h-1zM732 159h1v1h-1zM736 159h1v1h-1zM738 159h1v1h-1zM754 159h1v1h-1zM944 159h1v1h-1zM947 159h1v1h-1zM952 159h1v1h-1zM954 159h1v1h-1zM956 159h1v1h-1zM728 160h1v1h-1zM732 160h1v1h-1zM736 160h2v1h-2zM754 160h1v1h-1zM952 160h1v1h-1zM954 160h1v1h-1zM956 160h4v1h-4zM968 160h1v1h-1zM728 161h1v1h-1zM731 161h1v1h-1zM737 161h1v1h-1zM754 161h1v1h-1zM952 161h1v1h-1zM954 161h1v1h-1zM959 161h1v1h-1zM968 161h2v1h-2zM727 162h1v1h-1zM729 162h1v1h-1zM731 162h1v1h-1zM737 162h1v1h-1zM754 162h1v1h-1zM952 162h2v1h-2zM960 162h1v1h-1zM968 162h2v1h-2zM727 163h1v1h-1zM729 163h1v1h-1zM731 163h1v1h-1zM754 163h1v1h-1zM953 163h1v1h-1zM960 163h1v1h-1zM968 163h1v1h-1zM970 163h3v1h-3zM975 163h3v1h-3zM726 164h1v1h-1zM730 164h1v1h-1zM953 164h1v1h-1zM960 164h1v1h-1zM967 164h1v1h-1zM972 164h1v1h-1zM975 164h1v1h-1zM977 164h1v1h-1zM726 165h1v1h-1zM730 165h1v1h-1zM953 165h1v1h-1zM960 165h1v1h-1zM967 165h1v1h-1zM972 165h1v1h-1zM975 165h1v1h-1zM977 165h1v1h-1zM726 166h1v1h-1zM953 166h1v1h-1zM961 166h1v1h-1zM967 166h1v1h-1zM973 166h1v1h-1zM975 166h1v1h-1zM977 166h1v1h-1zM659 167h1v1h-1zM726 167h1v1h-1zM961 167h1v1h-1zM967 167h1v1h-1zM973 167h1v1h-1zM975 167h1v1h-1zM977 167h1v1h-1zM989 167h1v1h-1zM659 168h2v1h-2zM726 168h1v1h-1zM961 168h1v1h-1zM967 168h1v1h-1zM973 168h2v1h-2zM978 168h1v1h-1zM989 168h1v1h-1zM659 169h1v1h-1zM661 169h1v1h-1zM725 169h1v1h-1zM961 169h1v1h-1zM967 169h1v1h-1zM973 169h2v1h-2zM978 169h1v1h-1zM989 169h1v1h-1zM659 170h1v1h-1zM661 170h1v1h-1zM725 170h1v1h-1zM962 170h1v1h-1zM966 170h1v1h-1zM974 170h1v1h-1zM978 170h1v1h-1zM981 170h1v1h-1zM989 170h1v1h-1zM659 171h1v1h-1zM661 171h1v1h-1zM725 171h1v1h-1zM962 171h1v1h-1zM966 171h1v1h-1zM974 171h1v1h-1zM978 171h3v1h-3zM982 171h2v1h-2zM988 171h2v1h-2zM658 172h1v1h-1zM661 172h1v1h-1zM725 172h1v1h-1zM963 172h2v1h-2zM966 172h1v1h-1zM974 172h1v1h-1zM978 172h1v1h-1zM984 172h1v1h-1zM988 172h2v1h-2zM570 173h1v1h-1zM619 173h1v1h-1zM658 173h1v1h-1zM662 173h1v1h-1zM725 173h1v1h-1zM964 173h1v1h-1zM966 173h1v1h-1zM984 173h1v1h-1zM988 173h1v1h-1zM990 173h1v1h-1zM569 174h1v1h-1zM571 174h1v1h-1zM619 174h1v1h-1zM658 174h1v1h-1zM662 174h1v1h-1zM725 174h1v1h-1zM964 174h1v1h-1zM966 174h1v1h-1zM985 174h1v1h-1zM988 174h1v1h-1zM990 174h1v1h-1zM568 175h1v1h-1zM571 175h1v1h-1zM593 175h1v1h-1zM596 175h1v1h-1zM610 175h6v1h-6zM619 175h2v1h-2zM657 175h2v1h-2zM662 175h1v1h-1zM677 175h1v1h-1zM717 175h1v1h-1zM724 175h1v1h-1zM964 175h1v1h-1zM966 175h1v1h-1zM985 175h1v1h-1zM988 175h1v1h-1zM990 175h1v1h-1zM572 176h1v1h-1zM592 176h2v1h-2zM595 176h2v1h-2zM600 176h1v1h-1zM610 176h1v1h-1zM616 176h1v1h-1zM618 176h1v1h-1zM620 176h1v1h-1zM656 176h1v1h-1zM662 176h1v1h-1zM667 176h1v1h-1zM676 176h2v1h-2zM717 176h2v1h-2zM724 176h1v1h-1zM964 176h1v1h-1zM966 176h1v1h-1zM985 176h1v1h-1zM988 176h1v1h-1zM990 176h1v1h-1zM572 177h1v1h-1zM592 177h1v1h-1zM594 177h3v1h-3zM600 177h3v1h-3zM609 177h1v1h-1zM617 177h2v1h-2zM621 177h1v1h-1zM656 177h1v1h-1zM662 177h1v1h-1zM667 177h3v1h-3zM676 177h1v1h-1zM678 177h1v1h-1zM716 177h1v1h-1zM718 177h1v1h-1zM724 177h1v1h-1zM965 177h2v1h-2zM986 177h1v1h-1zM988 177h1v1h-1zM990 177h1v1h-1zM572 178h1v1h-1zM591 178h1v1h-1zM594 178h1v1h-1zM596 178h1v1h-1zM600 178h1v1h-1zM603 178h1v1h-1zM609 178h1v1h-1zM618 178h1v1h-1zM621 178h1v1h-1zM624 178h1v1h-1zM656 178h1v1h-1zM663 178h1v1h-1zM667 178h1v1h-1zM670 178h1v1h-1zM675 178h1v1h-1zM678 178h1v1h-1zM716 178h1v1h-1zM719 178h1v1h-1zM724 178h1v1h-1zM965 178h1v1h-1zM986 178h2v1h-2zM990 178h1v1h-1zM572 179h1v1h-1zM587 179h1v1h-1zM590 179h1v1h-1zM597 179h1v1h-1zM600 179h1v1h-1zM604 179h2v1h-2zM608 179h1v1h-1zM621 179h1v1h-1zM623 179h1v1h-1zM625 179h1v1h-1zM631 179h1v1h-1zM656 179h1v1h-1zM663 179h1v1h-1zM666 179h1v1h-1zM671 179h1v1h-1zM674 179h1v1h-1zM679 179h1v1h-1zM682 179h1v1h-1zM702 179h1v1h-1zM712 179h1v1h-1zM715 179h1v1h-1zM719 179h2v1h-2zM724 179h1v1h-1zM965 179h1v1h-1zM986 179h2v1h-2zM573 180h1v1h-1zM587 180h2v1h-2zM590 180h1v1h-1zM597 180h1v1h-1zM600 180h1v1h-1zM606 180h1v1h-1zM608 180h1v1h-1zM622 180h2v1h-2zM625 180h1v1h-1zM630 180h1v1h-1zM632 180h2v1h-2zM655 180h1v1h-1zM664 180h1v1h-1zM666 180h1v1h-1zM671 180h1v1h-1zM673 180h1v1h-1zM679 180h1v1h-1zM681 180h1v1h-1zM683 180h1v1h-1zM702 180h1v1h-1zM711 180h1v1h-1zM713 180h1v1h-1zM715 180h1v1h-1zM721 180h1v1h-1zM724 180h1v1h-1zM965 180h1v1h-1zM987 180h1v1h-1zM573 181h1v1h-1zM586 181h1v1h-1zM589 181h1v1h-1zM597 181h1v1h-1zM600 181h1v1h-1zM607 181h1v1h-1zM622 181h1v1h-1zM626 181h1v1h-1zM630 181h1v1h-1zM634 181h4v1h-4zM655 181h1v1h-1zM664 181h1v1h-1zM666 181h1v1h-1zM672 181h1v1h-1zM680 181h1v1h-1zM683 181h1v1h-1zM702 181h2v1h-2zM710 181h1v1h-1zM714 181h1v1h-1zM722 181h2v1h-2zM965 181h1v1h-1zM987 181h1v1h-1zM573 182h1v1h-1zM575 182h1v1h-1zM586 182h1v1h-1zM597 182h1v1h-1zM600 182h1v1h-1zM627 182h1v1h-1zM629 182h1v1h-1zM638 182h1v1h-1zM655 182h1v1h-1zM664 182h1v1h-1zM666 182h1v1h-1zM684 182h1v1h-1zM701 182h1v1h-1zM703 182h1v1h-1zM709 182h1v1h-1zM722 182h2v1h-2zM573 183h1v1h-1zM575 183h3v1h-3zM586 183h1v1h-1zM597 183h1v1h-1zM600 183h1v1h-1zM627 183h1v1h-1zM629 183h1v1h-1zM638 183h1v1h-1zM655 183h1v1h-1zM665 183h1v1h-1zM684 183h1v1h-1zM701 183h1v1h-1zM704 183h1v1h-1zM709 183h1v1h-1zM723 183h1v1h-1zM573 184h1v1h-1zM575 184h1v1h-1zM578 184h1v1h-1zM585 184h1v1h-1zM597 184h1v1h-1zM599 184h1v1h-1zM628 184h1v1h-1zM639 184h1v1h-1zM642 184h1v1h-1zM652 184h1v1h-1zM655 184h1v1h-1zM665 184h1v1h-1zM685 184h1v1h-1zM688 184h1v1h-1zM692 184h1v1h-1zM697 184h5v1h-5zM704 184h1v1h-1zM709 184h1v1h-1zM574 185h1v1h-1zM579 185h1v1h-1zM585 185h1v1h-1zM597 185h1v1h-1zM599 185h1v1h-1zM639 185h1v1h-1zM641 185h1v1h-1zM643 185h1v1h-1zM652 185h1v1h-1zM655 185h1v1h-1zM685 185h1v1h-1zM687 185h1v1h-1zM689 185h1v1h-1zM692 185h2v1h-2zM696 185h1v1h-1zM704 185h1v1h-1zM708 185h1v1h-1zM574 186h1v1h-1zM580 186h1v1h-1zM584 186h1v1h-1zM597 186h1v1h-1zM599 186h1v1h-1zM640 186h2v1h-2zM644 186h1v1h-1zM651 186h1v1h-1zM653 186h1v1h-1zM655 186h1v1h-1zM686 186h2v1h-2zM689 186h1v1h-1zM692 186h1v1h-1zM694 186h1v1h-1zM696 186h1v1h-1zM705 186h1v1h-1zM708 186h1v1h-1zM574 187h1v1h-1zM581 187h1v1h-1zM584 187h1v1h-1zM598 187h2v1h-2zM640 187h1v1h-1zM645 187h7v1h-7zM653 187h2v1h-2zM686 187h1v1h-1zM690 187h1v1h-1zM692 187h1v1h-1zM695 187h1v1h-1zM705 187h4v1h-4zM581 188h1v1h-1zM584 188h1v1h-1zM598 188h2v1h-2zM653 188h2v1h-2zM690 188h2v1h-2zM582 189h2v1h-2zM598 189h2v1h-2zM654 189h1v1h-1zM691 189h1v1h-1zM583 190h1v1h-1zM598 190h2v1h-2zM654 190h1v1h-1zM691 190h1v1h-1z"/>
<path fill="#ff0000" d="M804 142h1v1h-1zM827 142h1v1h-1zM804 143h1v1h-1zM827 143h1v1h-1zM804 144h1v1h-1zM826 144h2v1h-2zM830 144h1v1h-1zM803 145h1v1h-1zM805 145h1v1h-1zM819 145h2v1h-2zM826 145h2v1h-2zM830 145h2v1h-2zM844 145h1v1h-1zM864 145h1v1h-1zM873 145h1v1h-1zM892 145h1v1h-1zM900 145h1v1h-1zM803 146h1v1h-1zM805 146h1v1h-1zM817 146h2v1h-2zM821 146h1v1h-1zM825 146h1v1h-1zM827 146h1v1h-1zM829 146h1v1h-1zM831 146h1v1h-1zM843 146h2v1h-2zM864 146h1v1h-1zM873 146h1v1h-1zM892 146h1v1h-1zM900 146h1v1h-1zM803 147h1v1h-1zM805 147h1v1h-1zM817 147h1v1h-1zM821 147h1v1h-1zM825 147h1v1h-1zM828 147h2v1h-2zM831 147h1v1h-1zM843 147h2v1h-2zM864 147h1v1h-1zM872 147h2v1h-2zM891 147h1v1h-1zM893 147h1v1h-1zM900 147h2v1h-2zM803 148h1v1h-1zM805 148h1v1h-1zM817 148h1v1h-1zM822 148h1v1h-1zM824 148h1v1h-1zM828 148h2v1h-2zM831 148h1v1h-1zM842 148h1v1h-1zM844 148h1v1h-1zM847 148h1v1h-1zM850 148h1v1h-1zM863 148h1v1h-1zM865 148h1v1h-1zM872 148h1v1h-1zM874 148h1v1h-1zM884 148h2v1h-2zM891 148h1v1h-1zM893 148h1v1h-1zM900 148h2v1h-2zM802 149h1v1h-1zM806 149h1v1h-1zM814 149h1v1h-1zM816 149h1v1h-1zM822 149h1v1h-1zM824 149h1v1h-1zM828 149h2v1h-2zM832 149h1v1h-1zM841 149h1v1h-1zM844 149h1v1h-1zM847 149h1v1h-1zM850 149h1v1h-1zM855 149h1v1h-1zM863 149h1v1h-1zM865 149h1v1h-1zM871 149h1v1h-1zM874 149h1v1h-1zM882 149h2v1h-2zM885 149h1v1h-1zM890 149h1v1h-1zM893 149h1v1h-1zM899 149h1v1h-1zM902 149h1v1h-1zM802 150h1v1h-1zM806 150h1v1h-1zM813 150h2v1h-2zM816 150h1v1h-1zM823 150h1v1h-1zM828 150h1v1h-1zM832 150h1v1h-1zM841 150h1v1h-1zM844 150h1v1h-1zM847 150h1v1h-1zM850 150h1v1h-1zM854 150h1v1h-1zM856 150h1v1h-1zM863 150h1v1h-1zM865 150h1v1h-1zM871 150h1v1h-1zM874 150h1v1h-1zM882 150h1v1h-1zM886 150h1v1h-1zM890 150h1v1h-1zM894 150h1v1h-1zM898 150h1v1h-1zM902 150h1v1h-1zM802 151h1v1h-1zM806 151h1v1h-1zM813 151h2v1h-2zM816 151h1v1h-1zM823 151h1v1h-1zM828 151h1v1h-1zM832 151h9v1h-9zM845 151h3v1h-3zM849 151h1v1h-1zM851 151h1v1h-1zM853 151h1v1h-1zM856 151h1v1h-1zM863 151h1v1h-1zM865 151h1v1h-1zM870 151h1v1h-1zM874 151h1v1h-1zM882 151h1v1h-1zM886 151h1v1h-1zM889 151h1v1h-1zM894 151h1v1h-1zM898 151h1v1h-1zM903 151h1v1h-1zM908 151h1v1h-1zM792 152h1v1h-1zM802 152h1v1h-1zM807 152h1v1h-1zM812 152h1v1h-1zM815 152h2v1h-2zM845 152h3v1h-3zM849 152h1v1h-1zM851 152h2v1h-2zM857 152h1v1h-1zM863 152h1v1h-1zM866 152h1v1h-1zM870 152h1v1h-1zM875 152h1v1h-1zM881 152h1v1h-1zM886 152h1v1h-1zM889 152h1v1h-1zM894 152h1v1h-1zM897 152h1v1h-1zM903 152h1v1h-1zM906 152h2v1h-2zM909 152h2v1h-2zM915 152h4v1h-4zM792 153h1v1h-1zM802 153h1v1h-1zM807 153h1v1h-1zM810 153h2v1h-2zM815 153h1v1h-1zM845 153h2v1h-2zM848 153h2v1h-2zM851 153h1v1h-1zM857 153h1v1h-1zM862 153h1v1h-1zM866 153h1v1h-1zM869 153h1v1h-1zM875 153h1v1h-1zM881 153h1v1h-1zM886 153h1v1h-1zM888 153h1v1h-1zM895 153h2v1h-2zM904 153h2v1h-2zM911 153h4v1h-4zM918 153h1v1h-1zM791 154h2v1h-2zM798 154h1v1h-1zM801 154h1v1h-1zM808 154h2v1h-2zM815 154h1v1h-1zM845 154h2v1h-2zM848 154h2v1h-2zM858 154h1v1h-1zM862 154h1v1h-1zM866 154h1v1h-1zM869 154h1v1h-1zM875 154h1v1h-1zM878 154h1v1h-1zM881 154h1v1h-1zM887 154h2v1h-2zM895 154h1v1h-1zM904 154h1v1h-1zM919 154h1v1h-1zM791 155h2v1h-2zM798 155h1v1h-1zM801 155h1v1h-1zM845 155h1v1h-1zM848 155h1v1h-1zM859 155h1v1h-1zM862 155h1v1h-1zM866 155h1v1h-1zM868 155h1v1h-1zM875 155h1v1h-1zM878 155h1v1h-1zM881 155h1v1h-1zM887 155h1v1h-1zM919 155h1v1h-1zM791 156h1v1h-1zM793 156h1v1h-1zM798 156h2v1h-2zM801 156h1v1h-1zM845 156h1v1h-1zM848 156h1v1h-1zM859 156h1v1h-1zM862 156h1v1h-1zM866 156h1v1h-1zM868 156h1v1h-1zM875 156h1v1h-1zM877 156h1v1h-1zM879 156h1v1h-1zM881 156h1v1h-1zM887 156h1v1h-1zM919 156h1v1h-1zM785 157h1v1h-1zM790 157h1v1h-1zM793 157h1v1h-1zM797 157h1v1h-1zM799 157h1v1h-1zM801 157h1v1h-1zM845 157h1v1h-1zM848 157h1v1h-1zM860 157h2v1h-2zM867 157h2v1h-2zM876 157h2v1h-2zM879 157h2v1h-2zM919 157h1v1h-1zM743 158h1v1h-1zM785 158h2v1h-2zM790 158h1v1h-1zM793 158h1v1h-1zM797 158h1v1h-1zM800 158h1v1h-1zM860 158h2v1h-2zM867 158h1v1h-1zM876 158h1v1h-1zM880 158h1v1h-1zM920 158h1v1h-1zM929 158h1v1h-1zM743 159h1v1h-1zM784 159h1v1h-1zM786 159h1v1h-1zM789 159h1v1h-1zM793 159h1v1h-1zM797 159h1v1h-1zM800 159h1v1h-1zM861 159h1v1h-1zM867 159h1v1h-1zM876 159h1v1h-1zM880 159h1v1h-1zM920 159h1v1h-1zM928 159h2v1h-2zM743 160h1v1h-1zM784 160h1v1h-1zM787 160h1v1h-1zM789 160h1v1h-1zM793 160h1v1h-1zM797 160h1v1h-1zM920 160h1v1h-1zM927 160h1v1h-1zM930 160h1v1h-1zM742 161h1v1h-1zM744 161h1v1h-1zM783 161h1v1h-1zM787 161h1v1h-1zM789 161h1v1h-1zM793 161h1v1h-1zM796 161h1v1h-1zM921 161h2v1h-2zM927 161h1v1h-1zM930 161h1v1h-1zM938 161h1v1h-1zM742 162h1v1h-1zM744 162h1v1h-1zM783 162h1v1h-1zM788 162h1v1h-1zM794 162h1v1h-1zM796 162h1v1h-1zM923 162h2v1h-2zM926 162h1v1h-1zM930 162h1v1h-1zM938 162h2v1h-2zM742 163h1v1h-1zM744 163h1v1h-1zM748 163h1v1h-1zM755 163h1v1h-1zM782 163h1v1h-1zM788 163h1v1h-1zM794 163h1v1h-1zM796 163h1v1h-1zM925 163h1v1h-1zM931 163h1v1h-1zM938 163h2v1h-2zM742 164h1v1h-1zM744 164h1v1h-1zM748 164h2v1h-2zM755 164h1v1h-1zM774 164h1v1h-1zM782 164h1v1h-1zM794 164h1v1h-1zM796 164h1v1h-1zM931 164h1v1h-1zM937 164h1v1h-1zM940 164h1v1h-1zM742 165h1v1h-1zM744 165h1v1h-1zM747 165h1v1h-1zM749 165h1v1h-1zM755 165h2v1h-2zM774 165h1v1h-1zM781 165h1v1h-1zM794 165h1v1h-1zM796 165h1v1h-1zM931 165h1v1h-1zM937 165h1v1h-1zM940 165h1v1h-1zM741 166h1v1h-1zM744 166h1v1h-1zM747 166h1v1h-1zM750 166h1v1h-1zM755 166h2v1h-2zM764 166h1v1h-1zM774 166h2v1h-2zM781 166h1v1h-1zM794 166h1v1h-1zM796 166h1v1h-1zM931 166h1v1h-1zM937 166h1v1h-1zM941 166h1v1h-1zM741 167h1v1h-1zM745 167h2v1h-2zM750 167h1v1h-1zM755 167h2v1h-2zM764 167h1v1h-1zM773 167h1v1h-1zM775 167h1v1h-1zM780 167h1v1h-1zM794 167h1v1h-1zM796 167h1v1h-1zM932 167h1v1h-1zM937 167h1v1h-1zM942 167h1v1h-1zM734 168h1v1h-1zM741 168h1v1h-1zM745 168h2v1h-2zM751 168h1v1h-1zM755 168h1v1h-1zM757 168h1v1h-1zM763 168h1v1h-1zM765 168h1v1h-1zM773 168h1v1h-1zM775 168h1v1h-1zM780 168h1v1h-1zM794 168h2v1h-2zM932 168h1v1h-1zM937 168h1v1h-1zM942 168h1v1h-1zM734 169h1v1h-1zM741 169h1v1h-1zM745 169h1v1h-1zM751 169h1v1h-1zM755 169h1v1h-1zM757 169h1v1h-1zM763 169h1v1h-1zM765 169h1v1h-1zM773 169h1v1h-1zM775 169h1v1h-1zM779 169h1v1h-1zM795 169h1v1h-1zM933 169h1v1h-1zM937 169h1v1h-1zM943 169h1v1h-1zM950 169h1v1h-1zM733 170h2v1h-2zM741 170h1v1h-1zM751 170h1v1h-1zM755 170h1v1h-1zM757 170h1v1h-1zM762 170h1v1h-1zM766 170h1v1h-1zM773 170h1v1h-1zM776 170h1v1h-1zM778 170h1v1h-1zM795 170h1v1h-1zM934 170h1v1h-1zM936 170h1v1h-1zM943 170h1v1h-1zM949 170h2v1h-2zM733 171h1v1h-1zM735 171h1v1h-1zM740 171h1v1h-1zM752 171h1v1h-1zM755 171h1v1h-1zM758 171h1v1h-1zM762 171h1v1h-1zM766 171h1v1h-1zM773 171h1v1h-1zM776 171h2v1h-2zM795 171h1v1h-1zM935 171h2v1h-2zM944 171h5v1h-5zM951 171h1v1h-1zM727 172h1v1h-1zM733 172h1v1h-1zM735 172h1v1h-1zM740 172h1v1h-1zM752 172h1v1h-1zM754 172h1v1h-1zM758 172h4v1h-4zM767 172h1v1h-1zM772 172h1v1h-1zM776 172h1v1h-1zM795 172h1v1h-1zM936 172h1v1h-1zM951 172h1v1h-1zM968 172h1v1h-1zM727 173h1v1h-1zM732 173h1v1h-1zM735 173h1v1h-1zM740 173h1v1h-1zM752 173h1v1h-1zM754 173h1v1h-1zM767 173h1v1h-1zM772 173h1v1h-1zM951 173h1v1h-1zM955 173h1v1h-1zM968 173h2v1h-2zM727 174h2v1h-2zM732 174h1v1h-1zM735 174h1v1h-1zM739 174h1v1h-1zM752 174h1v1h-1zM754 174h1v1h-1zM768 174h1v1h-1zM772 174h1v1h-1zM952 174h1v1h-1zM955 174h1v1h-1zM968 174h2v1h-2zM727 175h2v1h-2zM732 175h1v1h-1zM735 175h1v1h-1zM739 175h1v1h-1zM753 175h2v1h-2zM769 175h1v1h-1zM772 175h1v1h-1zM952 175h1v1h-1zM954 175h1v1h-1zM956 175h1v1h-1zM968 175h1v1h-1zM970 175h1v1h-1zM976 175h1v1h-1zM982 175h1v1h-1zM659 176h1v1h-1zM727 176h1v1h-1zM729 176h1v1h-1zM731 176h1v1h-1zM735 176h1v1h-1zM738 176h1v1h-1zM753 176h2v1h-2zM769 176h1v1h-1zM771 176h1v1h-1zM952 176h1v1h-1zM954 176h1v1h-1zM956 176h1v1h-1zM968 176h1v1h-1zM970 176h1v1h-1zM976 176h2v1h-2zM981 176h2v1h-2zM659 177h2v1h-2zM726 177h1v1h-1zM729 177h1v1h-1zM731 177h1v1h-1zM736 177h2v1h-2zM753 177h2v1h-2zM770 177h2v1h-2zM953 177h1v1h-1zM957 177h1v1h-1zM968 177h1v1h-1zM971 177h1v1h-1zM975 177h1v1h-1zM978 177h1v1h-1zM980 177h1v1h-1zM983 177h1v1h-1zM658 178h1v1h-1zM660 178h1v1h-1zM726 178h1v1h-1zM729 178h1v1h-1zM731 178h1v1h-1zM736 178h2v1h-2zM753 178h2v1h-2zM771 178h1v1h-1zM953 178h1v1h-1zM957 178h4v1h-4zM968 178h1v1h-1zM972 178h1v1h-1zM975 178h1v1h-1zM979 178h1v1h-1zM983 178h1v1h-1zM614 179h1v1h-1zM658 179h1v1h-1zM661 179h1v1h-1zM677 179h1v1h-1zM726 179h1v1h-1zM730 179h1v1h-1zM736 179h1v1h-1zM754 179h1v1h-1zM961 179h1v1h-1zM967 179h1v1h-1zM973 179h1v1h-1zM975 179h1v1h-1zM983 179h1v1h-1zM613 180h1v1h-1zM615 180h1v1h-1zM658 180h1v1h-1zM661 180h1v1h-1zM677 180h2v1h-2zM726 180h1v1h-1zM730 180h1v1h-1zM754 180h1v1h-1zM961 180h1v1h-1zM967 180h1v1h-1zM973 180h2v1h-2zM983 180h1v1h-1zM593 181h1v1h-1zM613 181h1v1h-1zM615 181h1v1h-1zM657 181h1v1h-1zM661 181h1v1h-1zM676 181h1v1h-1zM678 181h1v1h-1zM726 181h1v1h-1zM962 181h1v1h-1zM967 181h1v1h-1zM974 181h1v1h-1zM984 181h1v1h-1zM568 182h1v1h-1zM593 182h2v1h-2zM612 182h1v1h-1zM616 182h1v1h-1zM620 182h1v1h-1zM657 182h1v1h-1zM662 182h1v1h-1zM669 182h1v1h-1zM676 182h1v1h-1zM679 182h1v1h-1zM726 182h1v1h-1zM963 182h2v1h-2zM967 182h1v1h-1zM984 182h1v1h-1zM569 183h2v1h-2zM593 183h2v1h-2zM611 183h1v1h-1zM616 183h1v1h-1zM620 183h1v1h-1zM657 183h1v1h-1zM662 183h1v1h-1zM668 183h1v1h-1zM670 183h2v1h-2zM676 183h1v1h-1zM679 183h1v1h-1zM726 183h1v1h-1zM964 183h1v1h-1zM967 183h1v1h-1zM985 183h1v1h-1zM571 184h2v1h-2zM593 184h1v1h-1zM595 184h1v1h-1zM606 184h1v1h-1zM611 184h1v1h-1zM617 184h1v1h-1zM619 184h2v1h-2zM624 184h1v1h-1zM633 184h3v1h-3zM656 184h1v1h-1zM663 184h1v1h-1zM668 184h1v1h-1zM672 184h2v1h-2zM675 184h1v1h-1zM680 184h1v1h-1zM717 184h1v1h-1zM726 184h1v1h-1zM964 184h1v1h-1zM967 184h1v1h-1zM985 184h1v1h-1zM990 184h1v1h-1zM572 185h1v1h-1zM587 185h1v1h-1zM592 185h1v1h-1zM595 185h1v1h-1zM600 185h1v1h-1zM605 185h1v1h-1zM607 185h1v1h-1zM610 185h1v1h-1zM617 185h1v1h-1zM619 185h1v1h-1zM621 185h1v1h-1zM623 185h1v1h-1zM625 185h1v1h-1zM632 185h1v1h-1zM635 185h1v1h-1zM656 185h1v1h-1zM663 185h1v1h-1zM667 185h1v1h-1zM673 185h1v1h-1zM675 185h1v1h-1zM680 185h1v1h-1zM702 185h1v1h-1zM712 185h1v1h-1zM716 185h1v1h-1zM718 185h1v1h-1zM726 185h1v1h-1zM965 185h2v1h-2zM986 185h1v1h-1zM989 185h1v1h-1zM572 186h1v1h-1zM587 186h2v1h-2zM592 186h1v1h-1zM596 186h1v1h-1zM600 186h3v1h-3zM604 186h1v1h-1zM608 186h1v1h-1zM610 186h1v1h-1zM618 186h1v1h-1zM621 186h2v1h-2zM625 186h1v1h-1zM631 186h1v1h-1zM636 186h1v1h-1zM655 186h1v1h-1zM664 186h1v1h-1zM667 186h1v1h-1zM674 186h1v1h-1zM681 186h2v1h-2zM702 186h1v1h-1zM711 186h1v1h-1zM713 186h1v1h-1zM715 186h1v1h-1zM718 186h1v1h-1zM725 186h1v1h-1zM965 186h2v1h-2zM986 186h1v1h-1zM988 186h1v1h-1zM573 187h1v1h-1zM586 187h1v1h-1zM588 187h5v1h-5zM596 187h1v1h-1zM600 187h1v1h-1zM603 187h1v1h-1zM609 187h1v1h-1zM618 187h1v1h-1zM621 187h1v1h-1zM626 187h5v1h-5zM636 187h1v1h-1zM642 187h1v1h-1zM655 187h1v1h-1zM664 187h3v1h-3zM674 187h1v1h-1zM683 187h2v1h-2zM701 187h1v1h-1zM703 187h1v1h-1zM710 187h1v1h-1zM714 187h1v1h-1zM719 187h1v1h-1zM725 187h1v1h-1zM965 187h1v1h-1zM987 187h1v1h-1zM573 188h1v1h-1zM586 188h1v1h-1zM596 188h1v1h-1zM600 188h1v1h-1zM636 188h1v1h-1zM642 188h2v1h-2zM655 188h1v1h-1zM685 188h1v1h-1zM701 188h1v1h-1zM703 188h1v1h-1zM709 188h1v1h-1zM719 188h1v1h-1zM725 188h1v1h-1zM573 189h1v1h-1zM585 189h1v1h-1zM597 189h1v1h-1zM600 189h1v1h-1zM637 189h1v1h-1zM641 189h1v1h-1zM643 189h1v1h-1zM655 189h1v1h-1zM685 189h1v1h-1zM700 189h1v1h-1zM704 189h1v1h-1zM709 189h1v1h-1zM720 189h4v1h-4zM725 189h1v1h-1zM573 190h6v1h-6zM585 190h1v1h-1zM597 190h1v1h-1zM599 190h1v1h-1zM637 190h5v1h-5zM644 190h1v1h-1zM653 190h2v1h-2zM686 190h1v1h-1zM693 190h1v1h-1zM697 190h4v1h-4zM704 190h1v1h-1zM709 190h1v1h-1zM720 190h1v1h-1zM724 190h2v1h-2zM578 191h1v1h-1zM584 191h1v1h-1zM597 191h1v1h-1zM599 191h1v1h-1zM645 191h1v1h-1zM652 191h1v1h-1zM654 191h1v1h-1zM687 191h1v1h-1zM692 191h1v1h-1zM694 191h1v1h-1zM696 191h1v1h-1zM704 191h1v1h-1zM708 191h1v1h-1zM579 192h1v1h-1zM584 192h1v1h-1zM597 192h1v1h-1zM599 192h1v1h-1zM645 192h1v1h-1zM652 192h1v1h-1zM688 192h2v1h-2zM691 192h1v1h-1zM694 192h1v1h-1zM696 192h1v1h-1zM705 192h1v1h-1zM708 192h1v1h-1zM579 193h5v1h-5zM597 193h3v1h-3zM646 193h6v1h-6zM690 193h1v1h-1zM695 193h1v1h-1zM705 193h4v1h-4z"/>
<path fill="#ff0000" d="M150 315h1v1h-1zM149 316h1v1h-1zM151 316h1v1h-1zM148 317h1v1h-1zM152 317h1v1h-1zM143 318h5v1h-5zM152 318h1v1h-1zM173 318h1v1h-1zM123 319h3v1h-3zM133 319h10v1h-10zM153 319h1v1h-1zM172 319h1v1h-1zM174 319h1v1h-1zM177 319h2v1h-2zM112 320h3v1h-3zM120 320h3v1h-3zM126 320h1v1h-1zM131 320h2v1h-2zM154 320h2v1h-2zM167 320h5v1h-5zM175 320h2v1h-2zM179 320h2v1h-2zM110 321h2v1h-2zM115 321h2v1h-2zM118 321h2v1h-2zM127 321h4v1h-4zM156 321h9v1h-9zM166 321h1v1h-1zM181 321h2v1h-2zM101 322h4v1h-4zM109 322h1v1h-1zM117 322h1v1h-1zM165 322h1v1h-1zM183 322h3v1h-3zM99 323h2v1h-2zM105 323h2v1h-2zM108 323h1v1h-1zM186 323h1v1h-1zM98 324h1v1h-1zM107 324h1v1h-1zM187 324h2v1h-2zM90 325h8v1h-8zM189 325h1v1h-1zM88 326h2v1h-2zM190 326h1v1h-1zM86 327h2v1h-2zM191 327h1v1h-1zM85 328h1v1h-1zM192 328h1v1h-1zM83 329h2v1h-2zM193 329h2v1h-2zM81 330h2v1h-2zM195 330h6v1h-6zM76 331h5v1h-5zM201 331h2v1h-2zM206 331h9v1h-9zM70 332h6v1h-6zM203 332h3v1h-3zM215 332h1v1h-1zM69 333h1v1h-1zM216 333h5v1h-5zM483 333h2v1h-2zM68 334h1v1h-1zM221 334h1v1h-1zM481 334h2v1h-2zM65 335h3v1h-3zM222 335h2v1h-2zM225 335h3v1h-3zM476 335h5v1h-5zM60 336h5v1h-5zM224 336h1v1h-1zM228 336h6v1h-6zM474 336h2v1h-2zM234 337h2v1h-2zM242 337h5v1h-5zM251 337h7v1h-7zM473 337h1v1h-1zM236 338h6v1h-6zM247 338h1v1h-1zM249 338h2v1h-2zM258 338h2v1h-2zM262 338h1v1h-1zM472 338h1v1h-1zM248 339h1v1h-1zM260 339h2v1h-2zM263 339h1v1h-1zM462 339h10v1h-10zM264 340h1v1h-1zM460 340h2v1h-2zM265 341h8v1h-8zM458 341h2v1h-2zM273 342h1v1h-1zM452 342h6v1h-6zM273 343h1v1h-1zM437 343h15v1h-15zM274 344h1v1h-1zM432 344h5v1h-5zM274 345h1v1h-1zM308 345h5v1h-5zM320 345h12v1h-12zM411 345h1v1h-1zM426 345h6v1h-6zM275 346h1v1h-1zM306 346h2v1h-2zM313 346h3v1h-3zM318 346h2v1h-2zM332 346h7v1h-7zM410 346h1v1h-1zM412 346h1v1h-1zM425 346h1v1h-1zM276 347h1v1h-1zM292 347h14v1h-14zM316 347h2v1h-2zM339 347h2v1h-2zM368 347h2v1h-2zM371 347h20v1h-20zM404 347h6v1h-6zM413 347h12v1h-12zM277 348h1v1h-1zM280 348h2v1h-2zM287 348h2v1h-2zM291 348h1v1h-1zM341 348h11v1h-11zM353 348h15v1h-15zM370 348h1v1h-1zM391 348h2v1h-2zM394 348h10v1h-10zM278 349h2v1h-2zM282 349h1v1h-1zM285 349h2v1h-2zM289 349h2v1h-2zM352 349h1v1h-1zM393 349h1v1h-1zM283 350h2v1h-2z"/>
<g fill="#ff0000"><rect x="594" y="272" width="69" height="3"/><rect x="676" y="272" width="13" height="3"/><rect x="567" y="279" width="4" height="3"/><rect x="576" y="279" width="19" height="3"/><rect x="662" y="279" width="16" height="3"/><rect x="744" y="279" width="3" height="3"/><rect x="941" y="279" width="2" height="3"/><rect x="949" y="279" width="14" height="3"/><rect x="570" y="287" width="7" height="3"/><rect x="815" y="287" width="3" height="3"/><rect x="831" y="287" width="3" height="3"/><rect x="836" y="287" width="3" height="3"/><rect x="852" y="287" width="3" height="3"/><rect x="856" y="287" width="3" height="3"/><rect x="867" y="287" width="4" height="3"/><rect x="876" y="287" width="2" height="3"/><rect x="879" y="287" width="2" height="3"/><rect x="886" y="287" width="3" height="3"/><rect x="893" y="287" width="58" height="3"/><rect x="961" y="287" width="7" height="3"/><rect x="985" y="287" width="4" height="3"/><rect x="737" y="294" width="3" height="3"/><rect x="743" y="294" width="2" height="3"/><rect x="749" y="294" width="2" height="3"/><rect x="802" y="294" width="2" height="3"/><rect x="806" y="294" width="9" height="3"/><rect x="817" y="294" width="10" height="3"/><rect x="828" y="294" width="3" height="3"/><rect x="833" y="294" width="20" height="3"/><rect x="855" y="294" width="11" height="3"/><rect x="870" y="294" width="25" height="3"/><rect x="969" y="294" width="2" height="3"/><rect x="972" y="294" width="14" height="3"/><rect x="989" y="294" width="3" height="3"/><rect x="726" y="302" width="5" height="3"/><rect x="735" y="302" width="9" height="3"/><rect x="747" y="302" width="3" height="3"/><rect x="756" y="302" width="3" height="3"/><rect x="772" y="302" width="3" height="3"/><rect x="778" y="302" width="4" height="3"/><rect x="784" y="302" width="3" height="3"/><rect x="788" y="302" width="19" height="3"/><rect x="808" y="302" width="5" height="3"/><rect x="814" y="302" width="2" height="3"/><rect x="822" y="302" width="11" height="3"/><rect x="842" y="302" width="2" height="3"/><rect x="845" y="302" width="2" height="3"/><rect x="848" y="302" width="2" height="3"/><rect x="853" y="302" width="3" height="3"/><rect x="862" y="302" width="6" height="3"/><rect x="967" y="302" width="6" height="3"/><rect x="974" y="302" width="3" height="3"/><rect x="988" y="302" width="3" height="3"/><rect x="716" y="310" width="10" height="2"/><rect x="732" y="310" width="5" height="2"/><rect x="746" y="310" width="3" height="2"/><rect x="750" y="310" width="4" height="2"/><rect x="755" y="310" width="2" height="2"/><rect x="783" y="310" width="2" height="2"/><rect x="786" y="310" width="10" height="2"/><rect x="797" y="310" width="3" height="2"/><rect x="725" y="317" width="3" height="3"/><rect x="729" y="317" width="3" height="3"/><rect x="753" y="317" width="3" height="3"/><rect x="768" y="317" width="3" height="3"/><rect x="781" y="317" width="3" height="3"/><rect x="712" y="325" width="5" height="2"/><rect x="731" y="325" width="3" height="2"/><rect x="759" y="325" width="13" height="2"/><rect x="774" y="325" width="2" height="2"/><rect x="701" y="332" width="12" height="3"/><rect x="757" y="332" width="3" height="3"/><rect x="771" y="332" width="2" height="3"/><rect x="688" y="340" width="15" height="2"/><rect x="775" y="340" width="5" height="2"/></g>
<path fill="#ff0000" d="M272 460h1v1h-1zM272 461h1v1h-1zM272 462h2v1h-2zM271 463h1v1h-1zM273 463h1v1h-1zM271 464h1v1h-1zM273 464h1v1h-1zM271 465h1v1h-1zM274 465h1v1h-1zM288 465h1v1h-1zM293 465h1v1h-1zM270 466h1v1h-1zM274 466h2v1h-2zM280 466h3v1h-3zM288 466h3v1h-3zM292 466h1v1h-1zM294 466h2v1h-2zM302 466h1v1h-1zM269 467h1v1h-1zM276 467h4v1h-4zM283 467h1v1h-1zM288 467h1v1h-1zM291 467h1v1h-1zM296 467h2v1h-2zM302 467h3v1h-3zM268 468h1v1h-1zM283 468h1v1h-1zM287 468h1v1h-1zM297 468h1v1h-1zM302 468h1v1h-1zM305 468h1v1h-1zM266 469h2v1h-2zM284 469h1v1h-1zM287 469h1v1h-1zM297 469h1v1h-1zM301 469h1v1h-1zM306 469h2v1h-2zM265 470h1v1h-1zM284 470h1v1h-1zM287 470h1v1h-1zM297 470h1v1h-1zM301 470h1v1h-1zM308 470h2v1h-2zM264 471h1v1h-1zM285 471h1v1h-1zM287 471h1v1h-1zM298 471h1v1h-1zM301 471h1v1h-1zM310 471h2v1h-2zM262 472h2v1h-2zM285 472h2v1h-2zM298 472h1v1h-1zM301 472h1v1h-1zM312 472h3v1h-3zM260 473h2v1h-2zM286 473h1v1h-1zM298 473h1v1h-1zM301 473h1v1h-1zM315 473h3v1h-3zM257 474h3v1h-3zM298 474h1v1h-1zM300 474h1v1h-1zM318 474h3v1h-3zM255 475h2v1h-2zM298 475h1v1h-1zM300 475h1v1h-1zM321 475h2v1h-2zM253 476h2v1h-2zM298 476h1v1h-1zM300 476h1v1h-1zM323 476h2v1h-2zM251 477h2v1h-2zM299 477h2v1h-2zM325 477h2v1h-2zM250 478h1v1h-1zM299 478h1v1h-1zM327 478h2v1h-2zM248 479h2v1h-2zM299 479h1v1h-1zM329 479h1v1h-1zM247 480h1v1h-1zM299 480h1v1h-1zM330 480h1v1h-1zM245 481h2v1h-2zM331 481h2v1h-2zM244 482h1v1h-1zM333 482h1v1h-1zM242 483h2v1h-2zM334 483h2v1h-2zM241 484h1v1h-1zM336 484h1v1h-1zM239 485h2v1h-2zM337 485h2v1h-2zM238 486h1v1h-1zM339 486h1v1h-1zM237 487h1v1h-1zM340 487h1v1h-1zM235 488h2v1h-2zM341 488h2v1h-2zM234 489h1v1h-1zM343 489h1v1h-1zM233 490h1v1h-1zM344 490h1v1h-1zM232 491h1v1h-1zM345 491h2v1h-2zM231 492h1v1h-1zM347 492h1v1h-1zM229 493h2v1h-2zM348 493h2v1h-2zM228 494h1v1h-1zM350 494h1v1h-1zM227 495h1v1h-1zM351 495h1v1h-1zM226 496h1v1h-1zM352 496h1v1h-1zM225 497h1v1h-1zM353 497h2v1h-2zM224 498h1v1h-1zM355 498h1v1h-1zM223 499h1v1h-1zM356 499h1v1h-1zM221 500h2v1h-2zM357 500h1v1h-1zM220 501h1v1h-1zM358 501h1v1h-1zM219 502h1v1h-1zM359 502h1v1h-1zM218 503h1v1h-1zM360 503h1v1h-1zM217 504h1v1h-1zM361 504h1v1h-1zM216 505h1v1h-1zM362 505h1v1h-1zM215 506h1v1h-1zM363 506h1v1h-1zM214 507h1v1h-1zM364 507h1v1h-1zM213 508h1v1h-1zM365 508h1v1h-1zM212 509h1v1h-1zM366 509h1v1h-1zM211 510h1v1h-1zM367 510h1v1h-1zM210 511h1v1h-1zM368 511h1v1h-1zM209 512h1v1h-1zM369 512h1v1h-1zM208 513h1v1h-1zM370 513h1v1h-1zM206 514h2v1h-2zM371 514h1v1h-1zM205 515h1v1h-1zM372 515h1v1h-1zM204 516h1v1h-1zM373 516h1v1h-1zM203 517h1v1h-1zM374 517h2v1h-2zM202 518h1v1h-1zM376 518h1v1h-1zM201 519h1v1h-1zM377 519h1v1h-1zM200 520h1v1h-1zM378 520h2v1h-2zM199 521h1v1h-1zM380 521h1v1h-1zM199 522h1v1h-1zM381 522h1v1h-1zM198 523h1v1h-1zM382 523h1v1h-1zM197 524h1v1h-1zM383 524h1v1h-1zM196 525h1v1h-1zM384 525h1v1h-1zM195 526h1v1h-1zM384 526h1v1h-1zM194 527h1v1h-1zM385 527h1v1h-1zM193 528h1v1h-1zM386 528h1v1h-1zM190 529h3v1h-3zM387 529h1v1h-1zM189 530h1v1h-1zM388 530h1v1h-1zM188 531h1v1h-1zM389 531h1v1h-1zM187 532h1v1h-1zM390 532h1v1h-1zM186 533h1v1h-1zM391 533h1v1h-1zM185 534h1v1h-1zM392 534h1v1h-1zM184 535h1v1h-1zM393 535h1v1h-1zM183 536h1v1h-1zM394 536h1v1h-1zM182 537h1v1h-1zM395 537h1v1h-1zM181 538h1v1h-1zM396 538h1v1h-1zM180 539h1v1h-1zM396 539h1v1h-1zM180 540h1v1h-1zM397 540h1v1h-1zM178 541h3v1h-3zM397 541h1v1h-1zM177 542h1v1h-1zM398 542h1v1h-1zM177 543h1v1h-1zM398 543h1v1h-1zM177 544h1v1h-1zM399 544h1v1h-1zM177 545h1v1h-1zM400 545h1v1h-1zM172 546h5v1h-5zM400 546h1v1h-1zM167 547h6v1h-6zM401 547h9v1h-9zM61 548h107v1h-107zM410 548h75v1h-75z"/>
<path fill="#ff0000" d="M708 438h4v1h-4zM715 438h1v1h-1zM738 438h1v1h-1zM744 438h1v1h-1zM748 438h4v1h-4zM707 439h1v1h-1zM712 439h1v1h-1zM714 439h1v1h-1zM716 439h1v1h-1zM737 439h1v1h-1zM739 439h1v1h-1zM743 439h1v1h-1zM745 439h1v1h-1zM748 439h1v1h-1zM751 439h1v1h-1zM706 440h1v1h-1zM712 440h1v1h-1zM714 440h1v1h-1zM717 440h1v1h-1zM737 440h1v1h-1zM740 440h1v1h-1zM742 440h1v1h-1zM746 440h2v1h-2zM752 440h1v1h-1zM699 441h7v1h-7zM713 441h1v1h-1zM718 441h6v1h-6zM727 441h1v1h-1zM731 441h6v1h-6zM741 441h1v1h-1zM747 441h1v1h-1zM752 441h4v1h-4zM699 442h1v1h-1zM724 442h1v1h-1zM727 442h2v1h-2zM730 442h1v1h-1zM755 442h1v1h-1zM699 443h1v1h-1zM725 443h2v1h-2zM728 443h1v1h-1zM730 443h1v1h-1zM756 443h1v1h-1zM699 444h1v1h-1zM726 444h1v1h-1zM729 444h1v1h-1zM756 444h1v1h-1zM698 445h1v1h-1zM756 445h1v1h-1zM759 445h4v1h-4zM698 446h1v1h-1zM756 446h1v1h-1zM758 446h1v1h-1zM763 446h1v1h-1zM698 447h1v1h-1zM757 447h2v1h-2zM764 447h1v1h-1zM695 448h4v1h-4zM757 448h1v1h-1zM765 448h5v1h-5zM695 449h1v1h-1zM769 449h1v1h-1zM694 450h1v1h-1zM770 450h1v1h-1zM690 451h5v1h-5zM770 451h1v1h-1zM689 452h1v1h-1zM771 452h1v1h-1zM689 453h1v1h-1zM771 453h1v1h-1zM688 454h1v1h-1zM772 454h1v1h-1zM687 455h1v1h-1zM772 455h1v1h-1zM685 456h2v1h-2zM772 456h1v1h-1zM684 457h1v1h-1zM773 457h1v1h-1zM683 458h1v1h-1zM773 458h1v1h-1zM682 459h1v1h-1zM773 459h1v1h-1zM682 460h1v1h-1zM774 460h1v1h-1zM681 461h1v1h-1zM774 461h1v1h-1zM681 462h1v1h-1zM774 462h1v1h-1zM680 463h1v1h-1zM774 463h1v1h-1zM680 464h1v1h-1zM775 464h1v1h-1zM679 465h1v1h-1zM775 465h1v1h-1zM679 466h1v1h-1zM775 466h1v1h-1zM678 467h1v1h-1zM776 467h1v1h-1zM678 468h1v1h-1zM776 468h1v1h-1zM674 469h4v1h-4zM777 469h1v1h-1zM780 469h1v1h-1zM674 470h1v1h-1zM777 470h1v1h-1zM779 470h2v1h-2zM673 471h1v1h-1zM778 471h2v1h-2zM781 471h1v1h-1zM673 472h1v1h-1zM778 472h1v1h-1zM781 472h1v1h-1zM971 472h1v1h-1zM673 473h1v1h-1zM782 473h1v1h-1zM971 473h2v1h-2zM672 474h1v1h-1zM782 474h1v1h-1zM970 474h1v1h-1zM973 474h1v1h-1zM671 475h2v1h-2zM783 475h1v1h-1zM970 475h1v1h-1zM973 475h1v1h-1zM669 476h2v1h-2zM783 476h2v1h-2zM965 476h5v1h-5zM974 476h1v1h-1zM986 476h5v1h-5zM669 477h1v1h-1zM785 477h2v1h-2zM964 477h1v1h-1zM975 477h1v1h-1zM985 477h1v1h-1zM668 478h1v1h-1zM787 478h1v1h-1zM964 478h1v1h-1zM975 478h1v1h-1zM985 478h1v1h-1zM668 479h1v1h-1zM788 479h1v1h-1zM950 479h1v1h-1zM952 479h1v1h-1zM957 479h1v1h-1zM963 479h1v1h-1zM976 479h1v1h-1zM984 479h1v1h-1zM667 480h1v1h-1zM789 480h1v1h-1zM950 480h1v1h-1zM952 480h2v1h-2zM956 480h1v1h-1zM958 480h1v1h-1zM962 480h1v1h-1zM977 480h1v1h-1zM983 480h1v1h-1zM667 481h1v1h-1zM790 481h1v1h-1zM949 481h1v1h-1zM951 481h1v1h-1zM953 481h1v1h-1zM955 481h1v1h-1zM958 481h1v1h-1zM962 481h1v1h-1zM978 481h1v1h-1zM983 481h1v1h-1zM666 482h1v1h-1zM791 482h1v1h-1zM946 482h4v1h-4zM951 482h1v1h-1zM954 482h1v1h-1zM959 482h3v1h-3zM979 482h4v1h-4zM666 483h1v1h-1zM792 483h1v1h-1zM945 483h1v1h-1zM665 484h1v1h-1zM792 484h1v1h-1zM944 484h1v1h-1zM664 485h1v1h-1zM793 485h1v1h-1zM943 485h1v1h-1zM651 486h1v1h-1zM655 486h1v1h-1zM663 486h1v1h-1zM793 486h1v1h-1zM942 486h1v1h-1zM651 487h1v1h-1zM654 487h2v1h-2zM663 487h1v1h-1zM793 487h1v1h-1zM941 487h1v1h-1zM650 488h1v1h-1zM652 488h2v1h-2zM656 488h1v1h-1zM662 488h1v1h-1zM794 488h1v1h-1zM938 488h3v1h-3zM636 489h5v1h-5zM644 489h7v1h-7zM652 489h1v1h-1zM656 489h6v1h-6zM794 489h1v1h-1zM936 489h2v1h-2zM636 490h1v1h-1zM641 490h1v1h-1zM644 490h1v1h-1zM795 490h2v1h-2zM936 490h1v1h-1zM635 491h1v1h-1zM642 491h1v1h-1zM644 491h1v1h-1zM796 491h1v1h-1zM935 491h1v1h-1zM635 492h1v1h-1zM642 492h2v1h-2zM796 492h1v1h-1zM935 492h1v1h-1zM630 493h5v1h-5zM643 493h1v1h-1zM796 493h1v1h-1zM934 493h1v1h-1zM629 494h1v1h-1zM797 494h1v1h-1zM934 494h1v1h-1zM628 495h1v1h-1zM797 495h1v1h-1zM933 495h1v1h-1zM627 496h1v1h-1zM797 496h1v1h-1zM932 496h1v1h-1zM627 497h1v1h-1zM797 497h1v1h-1zM800 497h1v1h-1zM804 497h1v1h-1zM931 497h1v1h-1zM626 498h1v1h-1zM797 498h1v1h-1zM800 498h1v1h-1zM803 498h2v1h-2zM931 498h1v1h-1zM626 499h1v1h-1zM797 499h1v1h-1zM799 499h1v1h-1zM801 499h2v1h-2zM805 499h1v1h-1zM930 499h1v1h-1zM621 500h5v1h-5zM798 500h2v1h-2zM801 500h1v1h-1zM805 500h1v1h-1zM809 500h2v1h-2zM929 500h1v1h-1zM621 501h1v1h-1zM798 501h2v1h-2zM806 501h3v1h-3zM811 501h2v1h-2zM928 501h1v1h-1zM620 502h1v1h-1zM798 502h1v1h-1zM806 502h1v1h-1zM813 502h1v1h-1zM928 502h1v1h-1zM620 503h1v1h-1zM798 503h1v1h-1zM813 503h1v1h-1zM818 503h2v1h-2zM925 503h3v1h-3zM619 504h1v1h-1zM814 504h4v1h-4zM819 504h1v1h-1zM921 504h1v1h-1zM923 504h2v1h-2zM619 505h1v1h-1zM814 505h1v1h-1zM819 505h1v1h-1zM921 505h2v1h-2zM619 506h1v1h-1zM820 506h1v1h-1zM920 506h1v1h-1zM618 507h1v1h-1zM820 507h1v1h-1zM834 507h1v1h-1zM918 507h1v1h-1zM920 507h1v1h-1zM615 508h1v1h-1zM618 508h1v1h-1zM820 508h1v1h-1zM834 508h1v1h-1zM917 508h3v1h-3zM615 509h3v1h-3zM820 509h1v1h-1zM834 509h1v1h-1zM917 509h3v1h-3zM607 510h8v1h-8zM617 510h1v1h-1zM821 510h1v1h-1zM833 510h2v1h-2zM840 510h1v1h-1zM909 510h1v1h-1zM916 510h1v1h-1zM918 510h1v1h-1zM607 511h1v1h-1zM822 511h1v1h-1zM826 511h3v1h-3zM833 511h2v1h-2zM839 511h2v1h-2zM909 511h2v1h-2zM914 511h2v1h-2zM607 512h1v1h-1zM823 512h3v1h-3zM829 512h1v1h-1zM833 512h1v1h-1zM835 512h1v1h-1zM839 512h2v1h-2zM909 512h2v1h-2zM912 512h2v1h-2zM606 513h1v1h-1zM830 513h1v1h-1zM833 513h1v1h-1zM835 513h1v1h-1zM838 513h1v1h-1zM840 513h1v1h-1zM903 513h1v1h-1zM907 513h1v1h-1zM909 513h1v1h-1zM911 513h1v1h-1zM606 514h1v1h-1zM830 514h1v1h-1zM832 514h1v1h-1zM835 514h1v1h-1zM837 514h1v1h-1zM841 514h1v1h-1zM903 514h2v1h-2zM906 514h3v1h-3zM606 515h1v1h-1zM831 515h2v1h-2zM835 515h2v1h-2zM841 515h1v1h-1zM903 515h2v1h-2zM906 515h1v1h-1zM908 515h1v1h-1zM605 516h1v1h-1zM832 516h1v1h-1zM835 516h1v1h-1zM841 516h1v1h-1zM903 516h1v1h-1zM905 516h1v1h-1zM908 516h1v1h-1zM581 517h6v1h-6zM594 517h2v1h-2zM605 517h1v1h-1zM841 517h1v1h-1zM900 517h1v1h-1zM902 517h1v1h-1zM581 518h1v1h-1zM586 518h1v1h-1zM593 518h1v1h-1zM595 518h1v1h-1zM604 518h1v1h-1zM842 518h1v1h-1zM899 518h1v1h-1zM901 518h2v1h-2zM580 519h1v1h-1zM587 519h1v1h-1zM593 519h1v1h-1zM596 519h1v1h-1zM604 519h1v1h-1zM843 519h1v1h-1zM898 519h1v1h-1zM901 519h2v1h-2zM571 520h10v1h-10zM587 520h6v1h-6zM596 520h8v1h-8zM844 520h1v1h-1zM897 520h1v1h-1zM902 520h1v1h-1zM570 521h1v1h-1zM845 521h1v1h-1zM896 521h1v1h-1zM570 522h1v1h-1zM846 522h2v1h-2zM895 522h1v1h-1zM569 523h1v1h-1zM848 523h1v1h-1zM893 523h2v1h-2zM567 524h2v1h-2zM849 524h6v1h-6zM891 524h2v1h-2zM854 525h1v1h-1zM891 525h1v1h-1zM854 526h1v1h-1zM891 526h1v1h-1zM854 527h8v1h-8zM865 527h1v1h-1zM874 527h1v1h-1zM881 527h9v1h-9zM891 527h1v1h-1zM861 528h1v1h-1zM864 528h1v1h-1zM866 528h1v1h-1zM871 528h1v1h-1zM874 528h2v1h-2zM881 528h1v1h-1zM889 528h2v1h-2zM862 529h1v1h-1zM864 529h1v1h-1zM867 529h1v1h-1zM870 529h2v1h-2zM873 529h1v1h-1zM875 529h1v1h-1zM880 529h1v1h-1zM890 529h1v1h-1zM862 530h2v1h-2zM867 530h1v1h-1zM869 530h1v1h-1zM872 530h2v1h-2zM876 530h1v1h-1zM880 530h1v1h-1zM890 530h1v1h-1zM862 531h1v1h-1zM868 531h1v1h-1zM872 531h1v1h-1zM876 531h4v1h-4z"/>
<rect x="61" y="725" width="424" height="1" fill="#ff0000"/>
</svg></body></html>
